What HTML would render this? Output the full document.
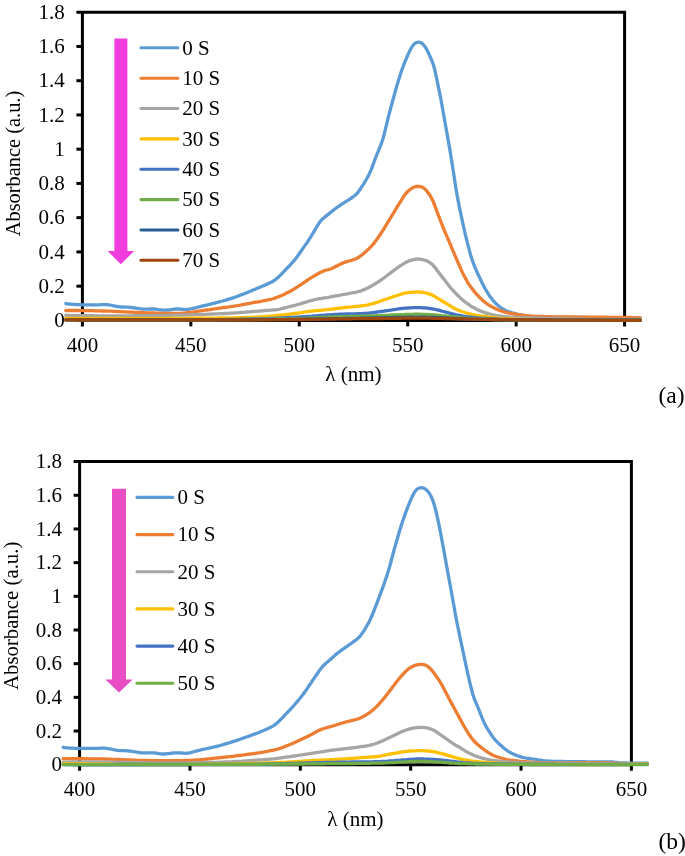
<!DOCTYPE html>
<html><head><meta charset="utf-8"><title>Absorbance spectra</title>
<style>
html,body{margin:0;padding:0;background:#fff;}
body{width:685px;height:856px;overflow:hidden;font-family:"Liberation Serif",serif;}
svg{display:block;}
text{font-family:"Liberation Serif",serif;font-size:21px;fill:#000;}
svg{will-change:transform;opacity:0.999;}
.curves path{fill:none;stroke-width:3.3;stroke-linecap:round;stroke-linejoin:round;}
</style></head><body>
<svg width="685" height="856" viewBox="0 0 685 856">
<rect width="685" height="856" fill="#fff"/>
<!-- panel a -->
<g stroke="#000" stroke-width="3" fill="none" stroke-linecap="butt">
<path d="M76.4,12.2 H626.1 M624.6,12.2 V326.4 M82.4,10.7 V326.4 M76.4,320.4 H624.6"/>
<path d="M76.4,286.16 H82.4"/>
<path d="M76.4,251.91 H82.4"/>
<path d="M76.4,217.67 H82.4"/>
<path d="M76.4,183.42 H82.4"/>
<path d="M76.4,149.18 H82.4"/>
<path d="M76.4,114.93 H82.4"/>
<path d="M76.4,80.69 H82.4"/>
<path d="M76.4,46.44 H82.4"/>
<path d="M190.84,320.4 V326.4"/>
<path d="M299.28,320.4 V326.4"/>
<path d="M407.72,320.4 V326.4"/>
<path d="M516.16,320.4 V326.4"/>
</g>
<text x="64.8" y="327.0" text-anchor="end">0</text>
<text x="64.8" y="292.8" text-anchor="end">0.2</text>
<text x="64.8" y="258.5" text-anchor="end">0.4</text>
<text x="64.8" y="224.3" text-anchor="end">0.6</text>
<text x="64.8" y="190.0" text-anchor="end">0.8</text>
<text x="64.8" y="155.8" text-anchor="end">1</text>
<text x="64.8" y="121.5" text-anchor="end">1.2</text>
<text x="64.8" y="87.3" text-anchor="end">1.4</text>
<text x="64.8" y="53.0" text-anchor="end">1.6</text>
<text x="64.8" y="18.8" text-anchor="end">1.8</text>
<text x="82.4" y="352.0" text-anchor="middle">400</text>
<text x="190.8" y="352.0" text-anchor="middle">450</text>
<text x="299.3" y="352.0" text-anchor="middle">500</text>
<text x="407.7" y="352.0" text-anchor="middle">550</text>
<text x="516.2" y="352.0" text-anchor="middle">600</text>
<text x="624.6" y="352.0" text-anchor="middle">650</text>
<text transform="translate(20.3,163.5) rotate(-90)" text-anchor="middle" style="font-size:20.4px">Absorbance (a.u.)</text>
<text x="353.5" y="381" text-anchor="middle">λ (nm)</text>
<text x="684.6" y="402.9" text-anchor="end" style="font-size:23.5px">(a)</text>
<path d="M114.4,38.6 H127.4 V251 H134.1 L120.8,264.2 L107.7,251 H114.4 Z" fill="#F23CDE"/>
<path d="M141,47.8 H177.9" stroke="#5B9BD5" stroke-width="3.1" stroke-linecap="round" fill="none"/>
<text x="182.2" y="54.6">0 S</text>
<path d="M141,78.2 H177.9" stroke="#ED7D31" stroke-width="3.1" stroke-linecap="round" fill="none"/>
<text x="182.2" y="85.0">10 S</text>
<path d="M141,108.5 H177.9" stroke="#A5A5A5" stroke-width="3.1" stroke-linecap="round" fill="none"/>
<text x="182.2" y="115.3">20 S</text>
<path d="M141,138.9 H177.9" stroke="#FFC000" stroke-width="3.1" stroke-linecap="round" fill="none"/>
<text x="182.2" y="145.7">30 S</text>
<path d="M141,169.2 H177.9" stroke="#4472C4" stroke-width="3.1" stroke-linecap="round" fill="none"/>
<text x="182.2" y="176.0">40 S</text>
<path d="M141,199.6 H177.9" stroke="#70AD47" stroke-width="3.1" stroke-linecap="round" fill="none"/>
<text x="182.2" y="206.4">50 S</text>
<path d="M141,230.0 H177.9" stroke="#255E91" stroke-width="3.1" stroke-linecap="round" fill="none"/>
<text x="182.2" y="236.8">60 S</text>
<path d="M141,260.3 H177.9" stroke="#9E480E" stroke-width="3.1" stroke-linecap="round" fill="none"/>
<text x="182.2" y="267.1">70 S</text>
<g class="curves">
<path d="M65.8,303.6 L67.4,303.8 L69.0,304.0 L70.6,304.2 L72.2,304.3 L73.8,304.4 L75.4,304.5 L77.0,304.6 L78.6,304.7 L80.2,304.7 L81.8,304.8 L83.4,304.8 L85.0,304.8 L86.6,304.8 L88.2,304.8 L89.8,304.8 L91.4,304.8 L93.0,304.8 L94.6,304.8 L96.2,304.8 L97.8,304.8 L99.4,304.8 L101.0,304.7 L102.6,304.7 L104.2,304.7 L105.8,304.7 L107.4,304.7 L109.0,304.9 L110.6,305.2 L112.2,305.4 L113.8,305.8 L115.4,306.1 L117.0,306.5 L118.6,306.7 L120.2,306.9 L121.8,307.0 L123.4,307.0 L125.0,307.1 L126.6,307.1 L128.2,307.2 L129.8,307.3 L131.4,307.5 L133.0,307.7 L134.6,308.0 L136.2,308.2 L137.8,308.5 L139.4,308.7 L141.0,308.9 L142.6,309.1 L144.2,309.1 L145.8,309.1 L147.4,309.1 L149.0,309.0 L150.6,309.0 L152.2,309.0 L153.8,309.0 L155.4,309.1 L157.0,309.3 L158.6,309.6 L160.2,309.8 L161.8,310.0 L163.4,310.1 L165.0,310.2 L166.6,310.2 L168.2,310.0 L169.8,309.8 L171.4,309.6 L173.0,309.4 L174.6,309.2 L176.2,309.0 L177.8,309.0 L179.4,309.0 L181.0,309.1 L182.6,309.3 L184.2,309.4 L185.8,309.4 L187.4,309.3 L189.0,309.1 L190.6,308.8 L192.2,308.5 L193.8,308.1 L195.4,307.8 L197.0,307.4 L198.6,307.0 L200.2,306.6 L201.8,306.2 L203.4,305.8 L205.0,305.4 L206.6,305.1 L208.2,304.7 L209.8,304.3 L211.4,303.9 L213.0,303.5 L214.6,303.1 L216.2,302.7 L217.8,302.3 L219.4,301.8 L221.0,301.4 L222.6,301.0 L224.2,300.5 L225.8,300.1 L227.4,299.6 L229.0,299.1 L230.6,298.6 L232.2,298.1 L233.8,297.6 L235.4,297.0 L237.0,296.5 L238.6,295.9 L240.2,295.3 L241.8,294.6 L243.4,294.0 L245.0,293.4 L246.6,292.7 L248.2,292.1 L249.8,291.4 L251.4,290.8 L253.0,290.1 L254.6,289.4 L256.2,288.8 L257.8,288.1 L259.4,287.4 L261.0,286.8 L262.6,286.1 L264.2,285.4 L265.8,284.7 L267.4,284.0 L269.0,283.3 L270.6,282.6 L272.2,281.7 L273.8,280.8 L275.4,279.6 L277.0,278.3 L278.6,276.9 L280.2,275.3 L281.8,273.7 L283.4,272.1 L285.0,270.4 L286.6,268.7 L288.2,267.0 L289.8,265.4 L291.4,263.7 L293.0,261.9 L294.6,260.0 L296.2,258.0 L297.8,255.8 L299.4,253.5 L301.0,251.2 L302.6,248.9 L304.2,246.6 L305.8,244.4 L307.4,242.1 L309.0,239.7 L310.6,237.2 L312.2,234.5 L313.8,231.8 L315.4,229.2 L317.0,226.5 L318.6,223.9 L320.2,221.5 L321.8,219.7 L323.4,218.3 L325.0,216.9 L326.6,215.6 L328.2,214.4 L329.8,213.1 L331.4,211.8 L333.0,210.5 L334.6,209.2 L336.2,208.0 L337.8,206.9 L339.4,205.8 L341.0,204.7 L342.6,203.7 L344.2,202.6 L345.8,201.6 L347.4,200.6 L349.0,199.6 L350.6,198.5 L352.2,197.5 L353.8,196.3 L355.4,195.0 L357.0,193.5 L358.6,191.5 L360.2,189.2 L361.8,186.7 L363.4,184.3 L365.0,181.7 L366.6,179.0 L368.2,176.1 L369.8,172.8 L371.4,169.1 L373.0,164.8 L374.6,160.4 L376.2,156.2 L377.8,152.3 L379.4,148.4 L381.0,144.5 L382.6,140.0 L384.2,134.0 L385.8,127.6 L387.4,121.0 L389.0,114.6 L390.6,108.5 L392.2,102.5 L393.8,96.7 L395.4,90.9 L397.0,85.3 L398.6,80.0 L400.2,74.9 L401.8,70.1 L403.4,65.8 L405.0,61.7 L406.6,57.8 L408.2,54.2 L409.8,50.8 L411.4,47.8 L413.0,45.4 L414.6,43.7 L416.2,42.7 L417.8,42.2 L419.4,42.2 L421.0,42.7 L422.6,43.8 L424.2,45.6 L425.8,47.9 L427.4,50.8 L429.0,54.2 L430.6,57.7 L432.2,61.4 L433.8,66.0 L435.4,72.5 L437.0,80.1 L438.6,87.8 L440.2,95.6 L441.8,104.3 L443.4,113.3 L445.0,122.3 L446.6,131.3 L448.2,140.3 L449.8,149.4 L451.4,159.1 L453.0,169.2 L454.6,179.7 L456.2,189.9 L457.8,198.9 L459.4,207.1 L461.0,214.9 L462.6,222.3 L464.2,229.5 L465.8,236.4 L467.4,242.9 L469.0,249.1 L470.6,254.9 L472.2,260.0 L473.8,264.3 L475.4,268.3 L477.0,272.0 L478.6,275.5 L480.2,278.9 L481.8,282.2 L483.4,285.4 L485.0,288.4 L486.6,291.2 L488.2,293.8 L489.8,296.2 L491.4,298.3 L493.0,300.3 L494.6,302.1 L496.2,303.8 L497.8,305.3 L499.4,306.6 L501.0,307.8 L502.6,308.9 L504.2,309.8 L505.8,310.7 L507.4,311.3 L509.0,311.9 L510.6,312.4 L512.2,312.9 L513.8,313.3 L515.4,313.7 L517.0,314.1 L518.6,314.5 L520.2,314.8 L521.8,315.1 L523.4,315.4 L525.0,315.7 L526.6,315.9 L528.2,316.2 L529.8,316.4 L531.4,316.6 L533.0,316.8 L534.6,316.9 L536.2,317.0 L537.8,317.0 L539.4,317.0 L541.0,317.1 L542.6,317.1 L544.2,317.1 L545.8,317.2 L547.4,317.2 L549.0,317.2 L550.6,317.2 L552.2,317.2 L553.8,317.3 L555.4,317.3 L557.0,317.3 L558.6,317.3 L560.2,317.3 L561.8,317.4 L563.4,317.4 L565.0,317.4 L566.6,317.4 L568.2,317.4 L569.8,317.4 L571.4,317.4 L573.0,317.5 L574.6,317.5 L576.2,317.5 L577.8,317.5 L579.4,317.5 L581.0,317.5 L582.6,317.5 L584.2,317.5 L585.8,317.5 L587.4,317.5 L589.0,317.6 L590.6,317.6 L592.2,317.6 L593.8,317.6 L595.4,317.6 L597.0,317.6 L598.6,317.6 L600.2,317.6 L601.8,317.6 L603.4,317.6 L605.0,317.6 L606.6,317.7 L608.2,317.7 L609.8,317.7 L611.4,317.7 L613.0,317.7 L614.6,317.7 L616.2,317.7 L617.8,317.7 L619.4,317.7 L621.0,317.7 L622.6,317.7 L624.2,317.7 L625.8,317.8 L627.4,317.8 L629.0,317.8 L630.6,317.8 L632.2,317.8 L633.8,317.8 L635.4,317.8 L637.0,317.8 L638.6,317.8 L640.2,317.8" stroke="#5B9BD5"/>
<path d="M65.8,310.5 L67.4,310.5 L69.0,310.5 L70.6,310.5 L72.2,310.5 L73.8,310.5 L75.4,310.5 L77.0,310.5 L78.6,310.5 L80.2,310.6 L81.8,310.6 L83.4,310.6 L85.0,310.6 L86.6,310.6 L88.2,310.6 L89.8,310.7 L91.4,310.7 L93.0,310.7 L94.6,310.8 L96.2,310.8 L97.8,310.8 L99.4,310.9 L101.0,310.9 L102.6,311.0 L104.2,311.0 L105.8,311.1 L107.4,311.1 L109.0,311.2 L110.6,311.2 L112.2,311.3 L113.8,311.4 L115.4,311.4 L117.0,311.5 L118.6,311.6 L120.2,311.7 L121.8,311.7 L123.4,311.8 L125.0,311.9 L126.6,311.9 L128.2,312.0 L129.8,312.1 L131.4,312.2 L133.0,312.2 L134.6,312.3 L136.2,312.4 L137.8,312.4 L139.4,312.5 L141.0,312.6 L142.6,312.6 L144.2,312.7 L145.8,312.8 L147.4,312.8 L149.0,312.9 L150.6,312.9 L152.2,313.0 L153.8,313.0 L155.4,313.1 L157.0,313.1 L158.6,313.2 L160.2,313.3 L161.8,313.3 L163.4,313.3 L165.0,313.4 L166.6,313.4 L168.2,313.5 L169.8,313.5 L171.4,313.5 L173.0,313.5 L174.6,313.5 L176.2,313.5 L177.8,313.5 L179.4,313.4 L181.0,313.3 L182.6,313.2 L184.2,313.1 L185.8,312.9 L187.4,312.7 L189.0,312.5 L190.6,312.3 L192.2,312.1 L193.8,311.8 L195.4,311.6 L197.0,311.4 L198.6,311.2 L200.2,310.9 L201.8,310.7 L203.4,310.5 L205.0,310.2 L206.6,310.0 L208.2,309.8 L209.8,309.6 L211.4,309.3 L213.0,309.1 L214.6,308.9 L216.2,308.7 L217.8,308.4 L219.4,308.2 L221.0,308.0 L222.6,307.7 L224.2,307.5 L225.8,307.3 L227.4,307.1 L229.0,306.8 L230.6,306.6 L232.2,306.3 L233.8,306.1 L235.4,305.8 L237.0,305.6 L238.6,305.3 L240.2,305.1 L241.8,304.8 L243.4,304.5 L245.0,304.2 L246.6,303.9 L248.2,303.6 L249.8,303.3 L251.4,303.0 L253.0,302.7 L254.6,302.4 L256.2,302.1 L257.8,301.9 L259.4,301.6 L261.0,301.3 L262.6,301.0 L264.2,300.7 L265.8,300.4 L267.4,300.0 L269.0,299.7 L270.6,299.4 L272.2,299.0 L273.8,298.5 L275.4,297.9 L277.0,297.3 L278.6,296.7 L280.2,296.1 L281.8,295.4 L283.4,294.7 L285.0,293.9 L286.6,293.1 L288.2,292.3 L289.8,291.5 L291.4,290.6 L293.0,289.7 L294.6,288.7 L296.2,287.7 L297.8,286.7 L299.4,285.6 L301.0,284.6 L302.6,283.5 L304.2,282.4 L305.8,281.3 L307.4,280.2 L309.0,279.1 L310.6,278.1 L312.2,277.1 L313.8,276.2 L315.4,275.2 L317.0,274.3 L318.6,273.4 L320.2,272.6 L321.8,271.8 L323.4,271.1 L325.0,270.5 L326.6,270.0 L328.2,269.7 L329.8,269.3 L331.4,268.6 L333.0,267.9 L334.6,267.1 L336.2,266.3 L337.8,265.5 L339.4,264.6 L341.0,263.9 L342.6,263.1 L344.2,262.5 L345.8,261.9 L347.4,261.4 L349.0,261.0 L350.6,260.5 L352.2,260.1 L353.8,259.6 L355.4,258.9 L357.0,258.2 L358.6,257.3 L360.2,256.2 L361.8,255.0 L363.4,253.7 L365.0,252.3 L366.6,250.9 L368.2,249.4 L369.8,247.8 L371.4,246.2 L373.0,244.4 L374.6,242.4 L376.2,240.2 L377.8,238.0 L379.4,235.6 L381.0,233.3 L382.6,230.8 L384.2,228.3 L385.8,225.7 L387.4,223.0 L389.0,220.4 L390.6,217.8 L392.2,215.1 L393.8,212.5 L395.4,209.9 L397.0,207.2 L398.6,204.6 L400.2,202.1 L401.8,199.5 L403.4,196.9 L405.0,194.6 L406.6,192.6 L408.2,191.0 L409.8,189.7 L411.4,188.6 L413.0,187.6 L414.6,186.9 L416.2,186.5 L417.8,186.4 L419.4,186.5 L421.0,186.8 L422.6,187.4 L424.2,188.4 L425.8,189.9 L427.4,191.8 L429.0,194.0 L430.6,196.4 L432.2,199.2 L433.8,203.1 L435.4,207.4 L437.0,211.7 L438.6,215.9 L440.2,220.0 L441.8,224.1 L443.4,228.1 L445.0,232.0 L446.6,235.7 L448.2,239.3 L449.8,243.2 L451.4,247.1 L453.0,250.9 L454.6,254.6 L456.2,258.3 L457.8,262.0 L459.4,265.7 L461.0,269.4 L462.6,272.9 L464.2,276.0 L465.8,278.9 L467.4,281.8 L469.0,284.4 L470.6,286.7 L472.2,288.9 L473.8,290.9 L475.4,292.8 L477.0,294.6 L478.6,296.3 L480.2,298.0 L481.8,299.5 L483.4,301.0 L485.0,302.3 L486.6,303.5 L488.2,304.6 L489.8,305.6 L491.4,306.5 L493.0,307.4 L494.6,308.2 L496.2,309.0 L497.8,309.7 L499.4,310.4 L501.0,310.9 L502.6,311.4 L504.2,311.9 L505.8,312.3 L507.4,312.7 L509.0,313.1 L510.6,313.4 L512.2,313.7 L513.8,314.0 L515.4,314.2 L517.0,314.5 L518.6,314.7 L520.2,314.9 L521.8,315.1 L523.4,315.3 L525.0,315.5 L526.6,315.7 L528.2,315.8 L529.8,316.0 L531.4,316.1 L533.0,316.2 L534.6,316.3 L536.2,316.3 L537.8,316.4 L539.4,316.4 L541.0,316.5 L542.6,316.5 L544.2,316.6 L545.8,316.6 L547.4,316.7 L549.0,316.7 L550.6,316.7 L552.2,316.8 L553.8,316.8 L555.4,316.8 L557.0,316.8 L558.6,316.9 L560.2,316.9 L561.8,316.9 L563.4,316.9 L565.0,317.0 L566.6,317.0 L568.2,317.0 L569.8,317.0 L571.4,317.0 L573.0,317.0 L574.6,317.0 L576.2,317.0 L577.8,317.1 L579.4,317.1 L581.0,317.1 L582.6,317.1 L584.2,317.1 L585.8,317.1 L587.4,317.1 L589.0,317.1 L590.6,317.1 L592.2,317.1 L593.8,317.2 L595.4,317.2 L597.0,317.2 L598.6,317.2 L600.2,317.2 L601.8,317.2 L603.4,317.2 L605.0,317.2 L606.6,317.2 L608.2,317.3 L609.8,317.3 L611.4,317.3 L613.0,317.3 L614.6,317.3 L616.2,317.3 L617.8,317.3 L619.4,317.4 L621.0,317.4 L622.6,317.4 L624.2,317.4 L625.8,317.4 L627.4,317.4 L629.0,317.5 L630.6,317.5 L632.2,317.6 L633.8,317.6 L635.4,317.7 L637.0,317.7 L638.6,317.8 L640.2,317.9" stroke="#ED7D31"/>
<path d="M65.8,315.5 L67.4,315.5 L69.0,315.5 L70.6,315.6 L72.2,315.6 L73.8,315.6 L75.4,315.6 L77.0,315.6 L78.6,315.6 L80.2,315.6 L81.8,315.7 L83.4,315.7 L85.0,315.7 L86.6,315.7 L88.2,315.7 L89.8,315.7 L91.4,315.7 L93.0,315.7 L94.6,315.8 L96.2,315.8 L97.8,315.8 L99.4,315.8 L101.0,315.8 L102.6,315.8 L104.2,315.8 L105.8,315.8 L107.4,315.8 L109.0,315.8 L110.6,315.8 L112.2,315.8 L113.8,315.8 L115.4,315.8 L117.0,315.8 L118.6,315.8 L120.2,315.8 L121.8,315.8 L123.4,315.8 L125.0,315.8 L126.6,315.8 L128.2,315.8 L129.8,315.8 L131.4,315.8 L133.0,315.7 L134.6,315.7 L136.2,315.7 L137.8,315.7 L139.4,315.7 L141.0,315.7 L142.6,315.7 L144.2,315.7 L145.8,315.7 L147.4,315.6 L149.0,315.6 L150.6,315.6 L152.2,315.6 L153.8,315.6 L155.4,315.5 L157.0,315.5 L158.6,315.5 L160.2,315.5 L161.8,315.4 L163.4,315.4 L165.0,315.4 L166.6,315.4 L168.2,315.3 L169.8,315.3 L171.4,315.3 L173.0,315.2 L174.6,315.2 L176.2,315.2 L177.8,315.1 L179.4,315.1 L181.0,315.1 L182.6,315.0 L184.2,315.0 L185.8,315.0 L187.4,314.9 L189.0,314.9 L190.6,314.8 L192.2,314.8 L193.8,314.7 L195.4,314.7 L197.0,314.6 L198.6,314.6 L200.2,314.5 L201.8,314.5 L203.4,314.4 L205.0,314.3 L206.6,314.3 L208.2,314.2 L209.8,314.1 L211.4,314.1 L213.0,314.0 L214.6,313.9 L216.2,313.9 L217.8,313.8 L219.4,313.7 L221.0,313.7 L222.6,313.6 L224.2,313.5 L225.8,313.5 L227.4,313.4 L229.0,313.3 L230.6,313.2 L232.2,313.1 L233.8,313.0 L235.4,312.9 L237.0,312.8 L238.6,312.7 L240.2,312.5 L241.8,312.4 L243.4,312.3 L245.0,312.2 L246.6,312.0 L248.2,311.9 L249.8,311.8 L251.4,311.7 L253.0,311.5 L254.6,311.4 L256.2,311.3 L257.8,311.2 L259.4,311.0 L261.0,310.9 L262.6,310.8 L264.2,310.6 L265.8,310.5 L267.4,310.4 L269.0,310.3 L270.6,310.1 L272.2,310.0 L273.8,309.9 L275.4,309.8 L277.0,309.6 L278.6,309.3 L280.2,309.0 L281.8,308.6 L283.4,308.2 L285.0,307.8 L286.6,307.4 L288.2,307.0 L289.8,306.6 L291.4,306.2 L293.0,305.8 L294.6,305.4 L296.2,305.0 L297.8,304.5 L299.4,304.1 L301.0,303.6 L302.6,303.1 L304.2,302.6 L305.8,302.1 L307.4,301.6 L309.0,301.2 L310.6,300.7 L312.2,300.3 L313.8,299.9 L315.4,299.5 L317.0,299.2 L318.6,298.9 L320.2,298.6 L321.8,298.3 L323.4,298.0 L325.0,297.8 L326.6,297.6 L328.2,297.3 L329.8,297.0 L331.4,296.7 L333.0,296.5 L334.6,296.2 L336.2,295.9 L337.8,295.6 L339.4,295.3 L341.0,295.0 L342.6,294.7 L344.2,294.4 L345.8,294.1 L347.4,293.8 L349.0,293.5 L350.6,293.2 L352.2,292.9 L353.8,292.6 L355.4,292.3 L357.0,291.9 L358.6,291.5 L360.2,291.1 L361.8,290.5 L363.4,289.9 L365.0,289.3 L366.6,288.5 L368.2,287.8 L369.8,286.9 L371.4,286.1 L373.0,285.1 L374.6,284.2 L376.2,283.2 L377.8,282.2 L379.4,281.1 L381.0,280.0 L382.6,278.9 L384.2,277.7 L385.8,276.5 L387.4,275.3 L389.0,274.1 L390.6,272.9 L392.2,271.6 L393.8,270.4 L395.4,269.3 L397.0,268.1 L398.6,267.0 L400.2,265.9 L401.8,264.9 L403.4,263.9 L405.0,262.9 L406.6,262.0 L408.2,261.2 L409.8,260.6 L411.4,260.1 L413.0,259.6 L414.6,259.3 L416.2,259.1 L417.8,259.0 L419.4,259.1 L421.0,259.3 L422.6,259.6 L424.2,260.0 L425.8,260.5 L427.4,261.2 L429.0,262.1 L430.6,263.1 L432.2,264.2 L433.8,266.1 L435.4,268.1 L437.0,270.2 L438.6,272.3 L440.2,274.4 L441.8,276.4 L443.4,278.5 L445.0,280.6 L446.6,282.7 L448.2,284.7 L449.8,286.7 L451.4,288.6 L453.0,290.4 L454.6,292.2 L456.2,293.9 L457.8,295.5 L459.4,297.0 L461.0,298.5 L462.6,299.9 L464.2,301.2 L465.8,302.5 L467.4,303.6 L469.0,304.7 L470.6,305.8 L472.2,306.8 L473.8,307.8 L475.4,308.6 L477.0,309.5 L478.6,310.2 L480.2,310.9 L481.8,311.5 L483.4,312.1 L485.0,312.6 L486.6,313.1 L488.2,313.6 L489.8,314.0 L491.4,314.4 L493.0,314.8 L494.6,315.2 L496.2,315.5 L497.8,315.8 L499.4,316.0 L501.0,316.2 L502.6,316.4 L504.2,316.6 L505.8,316.8 L507.4,316.9 L509.0,317.0 L510.6,317.1 L512.2,317.2 L513.8,317.2 L515.4,317.3 L517.0,317.4 L518.6,317.4 L520.2,317.5 L521.8,317.5 L523.4,317.6 L525.0,317.6 L526.6,317.7 L528.2,317.7 L529.8,317.8 L531.4,317.8 L533.0,317.9 L534.6,317.9 L536.2,318.0 L537.8,318.0 L539.4,318.1 L541.0,318.1 L542.6,318.2 L544.2,318.2 L545.8,318.3 L547.4,318.3 L549.0,318.4 L550.6,318.4 L552.2,318.5 L553.8,318.5 L555.4,318.6 L557.0,318.6 L558.6,318.7 L560.2,318.7 L561.8,318.7 L563.4,318.8 L565.0,318.8 L566.6,318.9 L568.2,318.9 L569.8,318.9 L571.4,319.0 L573.0,319.0 L574.6,319.0 L576.2,319.1 L577.8,319.1 L579.4,319.1 L581.0,319.2 L582.6,319.2 L584.2,319.2 L585.8,319.2 L587.4,319.3 L589.0,319.3 L590.6,319.3 L592.2,319.3 L593.8,319.3 L595.4,319.4 L597.0,319.4 L598.6,319.4 L600.2,319.4 L601.8,319.4 L603.4,319.4 L605.0,319.4 L606.6,319.5 L608.2,319.5 L609.8,319.5 L611.4,319.5 L613.0,319.5 L614.6,319.5 L616.2,319.5 L617.8,319.5 L619.4,319.5 L621.0,319.5 L622.6,319.5 L624.2,319.5 L625.8,319.5 L627.4,319.5 L629.0,319.5 L630.6,319.5 L632.2,319.5 L633.8,319.4 L635.4,319.4 L637.0,319.4 L638.6,319.4 L640.2,319.4" stroke="#A5A5A5"/>
<path d="M65.8,318.3 L67.4,318.3 L69.0,318.3 L70.6,318.3 L72.2,318.3 L73.8,318.3 L75.4,318.4 L77.0,318.4 L78.6,318.4 L80.2,318.4 L81.8,318.4 L83.4,318.4 L85.0,318.4 L86.6,318.4 L88.2,318.4 L89.8,318.4 L91.4,318.4 L93.0,318.4 L94.6,318.4 L96.2,318.4 L97.8,318.4 L99.4,318.4 L101.0,318.4 L102.6,318.4 L104.2,318.4 L105.8,318.4 L107.4,318.5 L109.0,318.5 L110.6,318.5 L112.2,318.5 L113.8,318.5 L115.4,318.5 L117.0,318.5 L118.6,318.5 L120.2,318.5 L121.8,318.5 L123.4,318.4 L125.0,318.4 L126.6,318.4 L128.2,318.4 L129.8,318.4 L131.4,318.4 L133.0,318.4 L134.6,318.4 L136.2,318.4 L137.8,318.4 L139.4,318.4 L141.0,318.4 L142.6,318.4 L144.2,318.4 L145.8,318.4 L147.4,318.4 L149.0,318.4 L150.6,318.4 L152.2,318.4 L153.8,318.4 L155.4,318.4 L157.0,318.4 L158.6,318.4 L160.2,318.4 L161.8,318.4 L163.4,318.3 L165.0,318.3 L166.6,318.3 L168.2,318.3 L169.8,318.3 L171.4,318.3 L173.0,318.3 L174.6,318.3 L176.2,318.3 L177.8,318.3 L179.4,318.3 L181.0,318.3 L182.6,318.3 L184.2,318.3 L185.8,318.3 L187.4,318.3 L189.0,318.2 L190.6,318.2 L192.2,318.2 L193.8,318.2 L195.4,318.2 L197.0,318.2 L198.6,318.2 L200.2,318.2 L201.8,318.2 L203.4,318.2 L205.0,318.2 L206.6,318.2 L208.2,318.2 L209.8,318.1 L211.4,318.1 L213.0,318.1 L214.6,318.1 L216.2,318.1 L217.8,318.1 L219.4,318.0 L221.0,318.0 L222.6,318.0 L224.2,318.0 L225.8,317.9 L227.4,317.9 L229.0,317.9 L230.6,317.9 L232.2,317.8 L233.8,317.8 L235.4,317.8 L237.0,317.7 L238.6,317.7 L240.2,317.7 L241.8,317.6 L243.4,317.6 L245.0,317.5 L246.6,317.5 L248.2,317.5 L249.8,317.4 L251.4,317.4 L253.0,317.3 L254.6,317.2 L256.2,317.1 L257.8,317.1 L259.4,317.0 L261.0,316.9 L262.6,316.7 L264.2,316.6 L265.8,316.5 L267.4,316.4 L269.0,316.2 L270.6,316.1 L272.2,316.0 L273.8,315.8 L275.4,315.7 L277.0,315.5 L278.6,315.4 L280.2,315.2 L281.8,315.0 L283.4,314.8 L285.0,314.7 L286.6,314.5 L288.2,314.3 L289.8,314.1 L291.4,313.9 L293.0,313.7 L294.6,313.5 L296.2,313.3 L297.8,313.1 L299.4,312.8 L301.0,312.6 L302.6,312.3 L304.2,312.1 L305.8,311.8 L307.4,311.6 L309.0,311.4 L310.6,311.2 L312.2,311.1 L313.8,310.9 L315.4,310.7 L317.0,310.6 L318.6,310.4 L320.2,310.3 L321.8,310.1 L323.4,310.0 L325.0,309.8 L326.6,309.7 L328.2,309.5 L329.8,309.3 L331.4,309.1 L333.0,309.0 L334.6,308.8 L336.2,308.6 L337.8,308.4 L339.4,308.2 L341.0,308.0 L342.6,307.8 L344.2,307.7 L345.8,307.5 L347.4,307.3 L349.0,307.1 L350.6,306.9 L352.2,306.8 L353.8,306.6 L355.4,306.5 L357.0,306.3 L358.6,306.1 L360.2,306.0 L361.8,305.8 L363.4,305.6 L365.0,305.4 L366.6,305.1 L368.2,304.8 L369.8,304.4 L371.4,304.0 L373.0,303.6 L374.6,303.1 L376.2,302.6 L377.8,302.0 L379.4,301.5 L381.0,300.9 L382.6,300.4 L384.2,299.8 L385.8,299.3 L387.4,298.7 L389.0,298.2 L390.6,297.6 L392.2,297.1 L393.8,296.5 L395.4,296.0 L397.0,295.5 L398.6,295.0 L400.2,294.5 L401.8,294.0 L403.4,293.5 L405.0,293.2 L406.6,292.9 L408.2,292.7 L409.8,292.5 L411.4,292.3 L413.0,292.2 L414.6,292.1 L416.2,292.0 L417.8,292.0 L419.4,292.1 L421.0,292.2 L422.6,292.4 L424.2,292.7 L425.8,293.0 L427.4,293.4 L429.0,293.9 L430.6,294.4 L432.2,295.0 L433.8,295.9 L435.4,296.9 L437.0,297.9 L438.6,298.9 L440.2,299.8 L441.8,300.8 L443.4,301.8 L445.0,302.7 L446.6,303.7 L448.2,304.6 L449.8,305.6 L451.4,306.6 L453.0,307.5 L454.6,308.5 L456.2,309.3 L457.8,310.0 L459.4,310.6 L461.0,311.2 L462.6,311.8 L464.2,312.3 L465.8,312.8 L467.4,313.2 L469.0,313.6 L470.6,314.0 L472.2,314.4 L473.8,314.7 L475.4,315.1 L477.0,315.4 L478.6,315.6 L480.2,315.8 L481.8,316.1 L483.4,316.3 L485.0,316.5 L486.6,316.7 L488.2,316.9 L489.8,317.0 L491.4,317.2 L493.0,317.4 L494.6,317.6 L496.2,317.8 L497.8,318.0 L499.4,318.1 L501.0,318.3 L502.6,318.4 L504.2,318.5 L505.8,318.7 L507.4,318.8 L509.0,318.9 L510.6,318.9 L512.2,319.0 L513.8,319.1 L515.4,319.1 L517.0,319.2 L518.6,319.2 L520.2,319.3 L521.8,319.3 L523.4,319.4 L525.0,319.4 L526.6,319.4 L528.2,319.5 L529.8,319.5 L531.4,319.5 L533.0,319.6 L534.6,319.6 L536.2,319.6 L537.8,319.6 L539.4,319.7 L541.0,319.7 L542.6,319.7 L544.2,319.7 L545.8,319.8 L547.4,319.8 L549.0,319.8 L550.6,319.8 L552.2,319.8 L553.8,319.9 L555.4,319.9 L557.0,319.9 L558.6,319.9 L560.2,319.9 L561.8,319.9 L563.4,319.9 L565.0,319.9 L566.6,319.9 L568.2,319.9 L569.8,319.9 L571.4,319.9 L573.0,319.9 L574.6,320.0 L576.2,320.0 L577.8,320.0 L579.4,320.0 L581.0,320.0 L582.6,320.0 L584.2,320.0 L585.8,320.0 L587.4,320.0 L589.0,320.0 L590.6,320.0 L592.2,320.0 L593.8,320.0 L595.4,320.0 L597.0,320.0 L598.6,320.0 L600.2,320.0 L601.8,320.0 L603.4,320.0 L605.0,320.0 L606.6,320.0 L608.2,320.0 L609.8,320.0 L611.4,320.0 L613.0,320.0 L614.6,320.0 L616.2,320.0 L617.8,320.0 L619.4,320.0 L621.0,320.0 L622.6,320.0 L624.2,320.0 L625.8,320.0 L627.4,320.0 L629.0,320.0 L630.6,320.0 L632.2,320.0 L633.8,319.9 L635.4,319.9 L637.0,319.9 L638.6,319.9 L640.2,319.9" stroke="#FFC000"/>
<path d="M65.8,319.9 L67.4,319.9 L69.0,319.9 L70.6,319.9 L72.2,319.9 L73.8,319.9 L75.4,319.9 L77.0,319.9 L78.6,319.9 L80.2,319.9 L81.8,319.9 L83.4,319.9 L85.0,319.9 L86.6,319.9 L88.2,319.9 L89.8,319.9 L91.4,319.9 L93.0,319.9 L94.6,319.9 L96.2,319.9 L97.8,319.9 L99.4,319.9 L101.0,319.9 L102.6,319.9 L104.2,319.9 L105.8,319.9 L107.4,319.9 L109.0,319.9 L110.6,319.9 L112.2,319.9 L113.8,319.9 L115.4,319.9 L117.0,319.9 L118.6,319.9 L120.2,319.9 L121.8,319.9 L123.4,319.9 L125.0,319.9 L126.6,319.9 L128.2,319.9 L129.8,319.9 L131.4,319.9 L133.0,319.9 L134.6,319.9 L136.2,319.9 L137.8,319.9 L139.4,319.9 L141.0,319.9 L142.6,319.9 L144.2,319.9 L145.8,319.9 L147.4,319.9 L149.0,319.9 L150.6,319.9 L152.2,319.9 L153.8,319.9 L155.4,319.9 L157.0,319.9 L158.6,319.9 L160.2,319.9 L161.8,319.9 L163.4,319.8 L165.0,319.8 L166.6,319.8 L168.2,319.8 L169.8,319.8 L171.4,319.8 L173.0,319.8 L174.6,319.8 L176.2,319.8 L177.8,319.8 L179.4,319.8 L181.0,319.8 L182.6,319.8 L184.2,319.8 L185.8,319.8 L187.4,319.8 L189.0,319.8 L190.6,319.8 L192.2,319.8 L193.8,319.8 L195.4,319.8 L197.0,319.8 L198.6,319.8 L200.2,319.8 L201.8,319.8 L203.4,319.8 L205.0,319.8 L206.6,319.8 L208.2,319.8 L209.8,319.8 L211.4,319.7 L213.0,319.7 L214.6,319.7 L216.2,319.7 L217.8,319.7 L219.4,319.6 L221.0,319.6 L222.6,319.6 L224.2,319.6 L225.8,319.5 L227.4,319.5 L229.0,319.5 L230.6,319.5 L232.2,319.4 L233.8,319.4 L235.4,319.4 L237.0,319.3 L238.6,319.3 L240.2,319.3 L241.8,319.2 L243.4,319.2 L245.0,319.2 L246.6,319.1 L248.2,319.1 L249.8,319.1 L251.4,319.0 L253.0,319.0 L254.6,318.9 L256.2,318.9 L257.8,318.9 L259.4,318.8 L261.0,318.8 L262.6,318.7 L264.2,318.7 L265.8,318.6 L267.4,318.6 L269.0,318.5 L270.6,318.5 L272.2,318.4 L273.8,318.3 L275.4,318.3 L277.0,318.2 L278.6,318.1 L280.2,318.0 L281.8,318.0 L283.4,317.9 L285.0,317.8 L286.6,317.7 L288.2,317.6 L289.8,317.6 L291.4,317.5 L293.0,317.4 L294.6,317.3 L296.2,317.2 L297.8,317.1 L299.4,317.0 L301.0,316.9 L302.6,316.8 L304.2,316.7 L305.8,316.6 L307.4,316.5 L309.0,316.4 L310.6,316.3 L312.2,316.2 L313.8,316.0 L315.4,315.9 L317.0,315.8 L318.6,315.6 L320.2,315.5 L321.8,315.4 L323.4,315.3 L325.0,315.1 L326.6,315.0 L328.2,314.9 L329.8,314.8 L331.4,314.7 L333.0,314.6 L334.6,314.5 L336.2,314.4 L337.8,314.3 L339.4,314.2 L341.0,314.2 L342.6,314.1 L344.2,314.1 L345.8,314.0 L347.4,314.0 L349.0,313.9 L350.6,313.9 L352.2,313.9 L353.8,313.8 L355.4,313.8 L357.0,313.7 L358.6,313.7 L360.2,313.6 L361.8,313.6 L363.4,313.5 L365.0,313.4 L366.6,313.3 L368.2,313.1 L369.8,313.0 L371.4,312.8 L373.0,312.6 L374.6,312.4 L376.2,312.2 L377.8,312.0 L379.4,311.7 L381.0,311.5 L382.6,311.3 L384.2,311.0 L385.8,310.8 L387.4,310.6 L389.0,310.4 L390.6,310.1 L392.2,309.9 L393.8,309.6 L395.4,309.4 L397.0,309.1 L398.6,308.9 L400.2,308.7 L401.8,308.5 L403.4,308.4 L405.0,308.2 L406.6,308.1 L408.2,308.0 L409.8,307.9 L411.4,307.8 L413.0,307.7 L414.6,307.6 L416.2,307.6 L417.8,307.6 L419.4,307.6 L421.0,307.7 L422.6,307.8 L424.2,307.9 L425.8,308.0 L427.4,308.1 L429.0,308.3 L430.6,308.6 L432.2,308.9 L433.8,309.2 L435.4,309.5 L437.0,309.8 L438.6,310.2 L440.2,310.6 L441.8,311.1 L443.4,311.5 L445.0,311.9 L446.6,312.3 L448.2,312.7 L449.8,313.2 L451.4,313.6 L453.0,314.0 L454.6,314.4 L456.2,314.8 L457.8,315.1 L459.4,315.4 L461.0,315.7 L462.6,316.0 L464.2,316.3 L465.8,316.5 L467.4,316.8 L469.0,317.0 L470.6,317.2 L472.2,317.4 L473.8,317.5 L475.4,317.7 L477.0,317.8 L478.6,318.0 L480.2,318.1 L481.8,318.3 L483.4,318.4 L485.0,318.5 L486.6,318.6 L488.2,318.7 L489.8,318.8 L491.4,318.9 L493.0,318.9 L494.6,319.0 L496.2,319.1 L497.8,319.2 L499.4,319.2 L501.0,319.3 L502.6,319.4 L504.2,319.4 L505.8,319.5 L507.4,319.5 L509.0,319.6 L510.6,319.6 L512.2,319.7 L513.8,319.7 L515.4,319.7 L517.0,319.8 L518.6,319.8 L520.2,319.8 L521.8,319.8 L523.4,319.8 L525.0,319.8 L526.6,319.8 L528.2,319.9 L529.8,319.9 L531.4,319.9 L533.0,319.9 L534.6,319.9 L536.2,319.9 L537.8,319.9 L539.4,319.9 L541.0,319.9 L542.6,319.9 L544.2,320.0 L545.8,320.0 L547.4,320.0 L549.0,320.0 L550.6,320.0 L552.2,320.0 L553.8,320.0 L555.4,320.0 L557.0,320.0 L558.6,320.0 L560.2,320.0 L561.8,320.0 L563.4,320.0 L565.0,320.1 L566.6,320.1 L568.2,320.1 L569.8,320.1 L571.4,320.1 L573.0,320.1 L574.6,320.1 L576.2,320.1 L577.8,320.1 L579.4,320.1 L581.0,320.1 L582.6,320.1 L584.2,320.1 L585.8,320.1 L587.4,320.1 L589.0,320.1 L590.6,320.1 L592.2,320.1 L593.8,320.1 L595.4,320.1 L597.0,320.2 L598.6,320.2 L600.2,320.2 L601.8,320.2 L603.4,320.2 L605.0,320.2 L606.6,320.2 L608.2,320.2 L609.8,320.2 L611.4,320.2 L613.0,320.2 L614.6,320.2 L616.2,320.2 L617.8,320.2 L619.4,320.2 L621.0,320.2 L622.6,320.2 L624.2,320.2 L625.8,320.2 L627.4,320.2 L629.0,320.2 L630.6,320.2 L632.2,320.2 L633.8,320.2 L635.4,320.2 L637.0,320.2 L638.6,320.2 L640.2,320.2" stroke="#4472C4"/>
<path d="M65.8,319.9 L67.4,319.9 L69.0,319.9 L70.6,319.9 L72.2,319.9 L73.8,319.9 L75.4,319.9 L77.0,319.9 L78.6,319.9 L80.2,319.9 L81.8,319.9 L83.4,319.9 L85.0,319.9 L86.6,319.9 L88.2,319.9 L89.8,319.9 L91.4,319.9 L93.0,319.9 L94.6,319.9 L96.2,319.9 L97.8,319.9 L99.4,319.9 L101.0,319.9 L102.6,319.9 L104.2,319.9 L105.8,319.9 L107.4,319.9 L109.0,319.9 L110.6,319.9 L112.2,319.9 L113.8,319.9 L115.4,319.9 L117.0,319.9 L118.6,319.9 L120.2,319.9 L121.8,319.9 L123.4,319.9 L125.0,319.9 L126.6,319.9 L128.2,319.9 L129.8,319.9 L131.4,319.9 L133.0,319.9 L134.6,319.9 L136.2,319.9 L137.8,319.9 L139.4,319.9 L141.0,319.9 L142.6,319.9 L144.2,319.9 L145.8,319.9 L147.4,319.9 L149.0,319.9 L150.6,319.9 L152.2,319.9 L153.8,319.9 L155.4,319.9 L157.0,319.9 L158.6,319.9 L160.2,319.9 L161.8,319.8 L163.4,319.8 L165.0,319.8 L166.6,319.8 L168.2,319.8 L169.8,319.8 L171.4,319.8 L173.0,319.8 L174.6,319.8 L176.2,319.8 L177.8,319.8 L179.4,319.8 L181.0,319.8 L182.6,319.8 L184.2,319.8 L185.8,319.8 L187.4,319.8 L189.0,319.8 L190.6,319.8 L192.2,319.8 L193.8,319.8 L195.4,319.8 L197.0,319.8 L198.6,319.8 L200.2,319.8 L201.8,319.8 L203.4,319.8 L205.0,319.8 L206.6,319.8 L208.2,319.8 L209.8,319.8 L211.4,319.8 L213.0,319.8 L214.6,319.8 L216.2,319.7 L217.8,319.7 L219.4,319.7 L221.0,319.7 L222.6,319.7 L224.2,319.7 L225.8,319.7 L227.4,319.7 L229.0,319.7 L230.6,319.6 L232.2,319.6 L233.8,319.6 L235.4,319.6 L237.0,319.6 L238.6,319.6 L240.2,319.5 L241.8,319.5 L243.4,319.5 L245.0,319.5 L246.6,319.5 L248.2,319.5 L249.8,319.4 L251.4,319.4 L253.0,319.4 L254.6,319.4 L256.2,319.4 L257.8,319.3 L259.4,319.3 L261.0,319.3 L262.6,319.3 L264.2,319.2 L265.8,319.2 L267.4,319.2 L269.0,319.2 L270.6,319.1 L272.2,319.1 L273.8,319.1 L275.4,319.1 L277.0,319.0 L278.6,319.0 L280.2,319.0 L281.8,319.0 L283.4,318.9 L285.0,318.9 L286.6,318.9 L288.2,318.8 L289.8,318.8 L291.4,318.7 L293.0,318.7 L294.6,318.6 L296.2,318.6 L297.8,318.5 L299.4,318.5 L301.0,318.4 L302.6,318.3 L304.2,318.3 L305.8,318.2 L307.4,318.1 L309.0,318.1 L310.6,318.0 L312.2,317.9 L313.8,317.9 L315.4,317.8 L317.0,317.7 L318.6,317.7 L320.2,317.6 L321.8,317.5 L323.4,317.4 L325.0,317.4 L326.6,317.3 L328.2,317.2 L329.8,317.2 L331.4,317.1 L333.0,317.1 L334.6,317.0 L336.2,316.9 L337.8,316.9 L339.4,316.8 L341.0,316.8 L342.6,316.7 L344.2,316.7 L345.8,316.6 L347.4,316.6 L349.0,316.5 L350.6,316.5 L352.2,316.4 L353.8,316.4 L355.4,316.3 L357.0,316.3 L358.6,316.3 L360.2,316.2 L361.8,316.2 L363.4,316.1 L365.0,316.1 L366.6,316.0 L368.2,316.0 L369.8,315.9 L371.4,315.9 L373.0,315.8 L374.6,315.8 L376.2,315.7 L377.8,315.7 L379.4,315.6 L381.0,315.6 L382.6,315.5 L384.2,315.4 L385.8,315.4 L387.4,315.3 L389.0,315.2 L390.6,315.1 L392.2,315.0 L393.8,315.0 L395.4,314.9 L397.0,314.8 L398.6,314.7 L400.2,314.7 L401.8,314.6 L403.4,314.6 L405.0,314.5 L406.6,314.4 L408.2,314.4 L409.8,314.3 L411.4,314.3 L413.0,314.3 L414.6,314.2 L416.2,314.2 L417.8,314.2 L419.4,314.2 L421.0,314.3 L422.6,314.3 L424.2,314.4 L425.8,314.4 L427.4,314.5 L429.0,314.6 L430.6,314.6 L432.2,314.7 L433.8,314.8 L435.4,315.0 L437.0,315.1 L438.6,315.3 L440.2,315.5 L441.8,315.7 L443.4,315.8 L445.0,316.0 L446.6,316.2 L448.2,316.3 L449.8,316.5 L451.4,316.7 L453.0,316.9 L454.6,317.1 L456.2,317.2 L457.8,317.4 L459.4,317.5 L461.0,317.7 L462.6,317.8 L464.2,318.0 L465.8,318.1 L467.4,318.2 L469.0,318.3 L470.6,318.5 L472.2,318.6 L473.8,318.7 L475.4,318.8 L477.0,318.9 L478.6,318.9 L480.2,319.0 L481.8,319.1 L483.4,319.1 L485.0,319.2 L486.6,319.2 L488.2,319.3 L489.8,319.4 L491.4,319.4 L493.0,319.5 L494.6,319.5 L496.2,319.6 L497.8,319.6 L499.4,319.7 L501.0,319.7 L502.6,319.7 L504.2,319.8 L505.8,319.8 L507.4,319.8 L509.0,319.9 L510.6,319.9 L512.2,319.9 L513.8,320.0 L515.4,320.0 L517.0,320.0 L518.6,320.0 L520.2,320.0 L521.8,320.0 L523.4,320.0 L525.0,320.0 L526.6,320.0 L528.2,320.0 L529.8,320.0 L531.4,320.0 L533.0,320.0 L534.6,320.0 L536.2,320.1 L537.8,320.1 L539.4,320.1 L541.0,320.1 L542.6,320.1 L544.2,320.1 L545.8,320.1 L547.4,320.1 L549.0,320.1 L550.6,320.1 L552.2,320.1 L553.8,320.1 L555.4,320.1 L557.0,320.1 L558.6,320.1 L560.2,320.1 L561.8,320.1 L563.4,320.1 L565.0,320.1 L566.6,320.1 L568.2,320.1 L569.8,320.1 L571.4,320.1 L573.0,320.1 L574.6,320.1 L576.2,320.1 L577.8,320.2 L579.4,320.2 L581.0,320.2 L582.6,320.2 L584.2,320.2 L585.8,320.2 L587.4,320.2 L589.0,320.2 L590.6,320.2 L592.2,320.2 L593.8,320.2 L595.4,320.2 L597.0,320.2 L598.6,320.2 L600.2,320.2 L601.8,320.2 L603.4,320.2 L605.0,320.2 L606.6,320.2 L608.2,320.2 L609.8,320.2 L611.4,320.2 L613.0,320.2 L614.6,320.2 L616.2,320.2 L617.8,320.2 L619.4,320.2 L621.0,320.2 L622.6,320.2 L624.2,320.2 L625.8,320.2 L627.4,320.2 L629.0,320.2 L630.6,320.2 L632.2,320.2 L633.8,320.2 L635.4,320.2 L637.0,320.2 L638.6,320.2 L640.2,320.2" stroke="#70AD47"/>
<path d="M65.8,319.9 L67.4,319.9 L69.0,319.9 L70.6,319.9 L72.2,319.9 L73.8,319.9 L75.4,319.9 L77.0,319.9 L78.6,319.9 L80.2,319.9 L81.8,319.9 L83.4,319.9 L85.0,319.9 L86.6,319.9 L88.2,319.9 L89.8,319.9 L91.4,319.9 L93.0,319.9 L94.6,319.9 L96.2,319.9 L97.8,319.9 L99.4,319.9 L101.0,319.9 L102.6,319.9 L104.2,319.9 L105.8,319.9 L107.4,319.9 L109.0,319.9 L110.6,319.9 L112.2,319.9 L113.8,319.9 L115.4,319.9 L117.0,319.9 L118.6,319.9 L120.2,319.9 L121.8,319.9 L123.4,319.9 L125.0,319.9 L126.6,319.9 L128.2,319.9 L129.8,319.9 L131.4,319.9 L133.0,319.9 L134.6,319.9 L136.2,319.9 L137.8,319.9 L139.4,319.9 L141.0,319.9 L142.6,319.9 L144.2,319.9 L145.8,319.9 L147.4,319.9 L149.0,319.9 L150.6,319.9 L152.2,319.9 L153.8,319.9 L155.4,319.9 L157.0,319.9 L158.6,319.9 L160.2,319.9 L161.8,319.9 L163.4,319.9 L165.0,319.9 L166.6,319.9 L168.2,319.9 L169.8,319.9 L171.4,319.9 L173.0,319.9 L174.6,319.9 L176.2,319.9 L177.8,319.9 L179.4,319.9 L181.0,319.9 L182.6,319.9 L184.2,319.9 L185.8,319.9 L187.4,319.9 L189.0,319.9 L190.6,319.9 L192.2,319.9 L193.8,319.9 L195.4,319.9 L197.0,319.9 L198.6,319.9 L200.2,319.8 L201.8,319.8 L203.4,319.8 L205.0,319.8 L206.6,319.8 L208.2,319.8 L209.8,319.8 L211.4,319.8 L213.0,319.8 L214.6,319.8 L216.2,319.8 L217.8,319.8 L219.4,319.8 L221.0,319.8 L222.6,319.8 L224.2,319.8 L225.8,319.8 L227.4,319.8 L229.0,319.8 L230.6,319.8 L232.2,319.8 L233.8,319.8 L235.4,319.8 L237.0,319.8 L238.6,319.8 L240.2,319.8 L241.8,319.8 L243.4,319.8 L245.0,319.8 L246.6,319.8 L248.2,319.8 L249.8,319.8 L251.4,319.8 L253.0,319.8 L254.6,319.8 L256.2,319.8 L257.8,319.8 L259.4,319.8 L261.0,319.8 L262.6,319.7 L264.2,319.7 L265.8,319.7 L267.4,319.7 L269.0,319.7 L270.6,319.7 L272.2,319.7 L273.8,319.7 L275.4,319.6 L277.0,319.6 L278.6,319.6 L280.2,319.6 L281.8,319.6 L283.4,319.5 L285.0,319.5 L286.6,319.5 L288.2,319.5 L289.8,319.4 L291.4,319.4 L293.0,319.4 L294.6,319.4 L296.2,319.4 L297.8,319.3 L299.4,319.3 L301.0,319.3 L302.6,319.2 L304.2,319.2 L305.8,319.2 L307.4,319.2 L309.0,319.1 L310.6,319.1 L312.2,319.1 L313.8,319.1 L315.4,319.0 L317.0,319.0 L318.6,319.0 L320.2,318.9 L321.8,318.9 L323.4,318.9 L325.0,318.9 L326.6,318.8 L328.2,318.8 L329.8,318.8 L331.4,318.7 L333.0,318.7 L334.6,318.7 L336.2,318.7 L337.8,318.6 L339.4,318.6 L341.0,318.6 L342.6,318.6 L344.2,318.5 L345.8,318.5 L347.4,318.5 L349.0,318.4 L350.6,318.4 L352.2,318.4 L353.8,318.4 L355.4,318.3 L357.0,318.3 L358.6,318.3 L360.2,318.2 L361.8,318.2 L363.4,318.2 L365.0,318.1 L366.6,318.1 L368.2,318.1 L369.8,318.0 L371.4,318.0 L373.0,318.0 L374.6,317.9 L376.2,317.9 L377.8,317.9 L379.4,317.8 L381.0,317.8 L382.6,317.7 L384.2,317.7 L385.8,317.7 L387.4,317.6 L389.0,317.6 L390.6,317.6 L392.2,317.6 L393.8,317.5 L395.4,317.5 L397.0,317.5 L398.6,317.4 L400.2,317.4 L401.8,317.4 L403.4,317.3 L405.0,317.3 L406.6,317.3 L408.2,317.2 L409.8,317.2 L411.4,317.2 L413.0,317.1 L414.6,317.1 L416.2,317.1 L417.8,317.1 L419.4,317.1 L421.0,317.1 L422.6,317.2 L424.2,317.2 L425.8,317.2 L427.4,317.3 L429.0,317.3 L430.6,317.4 L432.2,317.4 L433.8,317.5 L435.4,317.5 L437.0,317.6 L438.6,317.6 L440.2,317.7 L441.8,317.8 L443.4,317.9 L445.0,318.0 L446.6,318.1 L448.2,318.2 L449.8,318.3 L451.4,318.4 L453.0,318.5 L454.6,318.6 L456.2,318.6 L457.8,318.7 L459.4,318.8 L461.0,318.8 L462.6,318.9 L464.2,318.9 L465.8,319.0 L467.4,319.1 L469.0,319.1 L470.6,319.2 L472.2,319.2 L473.8,319.3 L475.4,319.3 L477.0,319.4 L478.6,319.4 L480.2,319.4 L481.8,319.5 L483.4,319.5 L485.0,319.6 L486.6,319.6 L488.2,319.6 L489.8,319.7 L491.4,319.7 L493.0,319.7 L494.6,319.7 L496.2,319.8 L497.8,319.8 L499.4,319.8 L501.0,319.8 L502.6,319.8 L504.2,319.8 L505.8,319.8 L507.4,319.8 L509.0,319.9 L510.6,319.9 L512.2,319.9 L513.8,319.9 L515.4,319.9 L517.0,319.9 L518.6,319.9 L520.2,319.9 L521.8,319.9 L523.4,319.9 L525.0,319.9 L526.6,319.9 L528.2,319.9 L529.8,320.0 L531.4,320.0 L533.0,320.0 L534.6,320.0 L536.2,320.0 L537.8,320.0 L539.4,320.0 L541.0,320.0 L542.6,320.0 L544.2,320.0 L545.8,320.0 L547.4,320.0 L549.0,320.0 L550.6,320.0 L552.2,320.0 L553.8,320.1 L555.4,320.1 L557.0,320.1 L558.6,320.1 L560.2,320.1 L561.8,320.1 L563.4,320.1 L565.0,320.1 L566.6,320.1 L568.2,320.1 L569.8,320.1 L571.4,320.1 L573.0,320.1 L574.6,320.1 L576.2,320.1 L577.8,320.1 L579.4,320.1 L581.0,320.1 L582.6,320.1 L584.2,320.1 L585.8,320.1 L587.4,320.1 L589.0,320.1 L590.6,320.2 L592.2,320.2 L593.8,320.2 L595.4,320.2 L597.0,320.2 L598.6,320.2 L600.2,320.2 L601.8,320.2 L603.4,320.2 L605.0,320.2 L606.6,320.2 L608.2,320.2 L609.8,320.2 L611.4,320.2 L613.0,320.2 L614.6,320.2 L616.2,320.2 L617.8,320.2 L619.4,320.2 L621.0,320.2 L622.6,320.2 L624.2,320.2 L625.8,320.2 L627.4,320.2 L629.0,320.2 L630.6,320.2 L632.2,320.2 L633.8,320.2 L635.4,320.2 L637.0,320.2 L638.6,320.2 L640.2,320.2" stroke="#255E91"/>
<path d="M65.8,319.9 L67.4,319.9 L69.0,319.9 L70.6,319.9 L72.2,319.9 L73.8,319.9 L75.4,319.9 L77.0,319.9 L78.6,319.9 L80.2,319.9 L81.8,319.9 L83.4,319.9 L85.0,319.9 L86.6,319.9 L88.2,319.9 L89.8,319.9 L91.4,319.9 L93.0,319.9 L94.6,319.9 L96.2,319.9 L97.8,319.9 L99.4,319.9 L101.0,319.9 L102.6,319.9 L104.2,319.9 L105.8,319.9 L107.4,319.9 L109.0,319.9 L110.6,319.9 L112.2,319.9 L113.8,319.9 L115.4,319.9 L117.0,319.9 L118.6,319.9 L120.2,319.9 L121.8,319.9 L123.4,319.9 L125.0,319.9 L126.6,319.9 L128.2,319.9 L129.8,319.9 L131.4,319.9 L133.0,319.9 L134.6,319.9 L136.2,319.9 L137.8,319.9 L139.4,319.9 L141.0,319.9 L142.6,319.9 L144.2,319.9 L145.8,319.9 L147.4,319.9 L149.0,319.9 L150.6,319.9 L152.2,319.9 L153.8,319.9 L155.4,319.9 L157.0,319.9 L158.6,319.9 L160.2,319.9 L161.8,319.9 L163.4,319.9 L165.0,319.9 L166.6,319.9 L168.2,319.9 L169.8,319.9 L171.4,319.9 L173.0,319.9 L174.6,319.9 L176.2,319.9 L177.8,319.9 L179.4,319.9 L181.0,319.9 L182.6,319.9 L184.2,319.9 L185.8,319.9 L187.4,319.9 L189.0,319.9 L190.6,319.9 L192.2,319.9 L193.8,319.9 L195.4,319.9 L197.0,319.9 L198.6,319.9 L200.2,319.9 L201.8,319.9 L203.4,319.9 L205.0,319.9 L206.6,319.9 L208.2,319.9 L209.8,319.9 L211.4,319.9 L213.0,319.9 L214.6,319.9 L216.2,319.9 L217.8,319.9 L219.4,319.9 L221.0,319.9 L222.6,319.9 L224.2,319.9 L225.8,319.9 L227.4,319.9 L229.0,319.9 L230.6,319.9 L232.2,319.9 L233.8,319.9 L235.4,319.9 L237.0,319.9 L238.6,319.9 L240.2,319.9 L241.8,319.8 L243.4,319.8 L245.0,319.8 L246.6,319.8 L248.2,319.8 L249.8,319.8 L251.4,319.8 L253.0,319.8 L254.6,319.8 L256.2,319.8 L257.8,319.8 L259.4,319.8 L261.0,319.8 L262.6,319.8 L264.2,319.8 L265.8,319.8 L267.4,319.8 L269.0,319.8 L270.6,319.8 L272.2,319.7 L273.8,319.7 L275.4,319.7 L277.0,319.7 L278.6,319.7 L280.2,319.7 L281.8,319.7 L283.4,319.7 L285.0,319.6 L286.6,319.6 L288.2,319.6 L289.8,319.6 L291.4,319.6 L293.0,319.6 L294.6,319.6 L296.2,319.5 L297.8,319.5 L299.4,319.5 L301.0,319.5 L302.6,319.5 L304.2,319.5 L305.8,319.4 L307.4,319.4 L309.0,319.4 L310.6,319.4 L312.2,319.3 L313.8,319.3 L315.4,319.3 L317.0,319.3 L318.6,319.2 L320.2,319.2 L321.8,319.2 L323.4,319.2 L325.0,319.1 L326.6,319.1 L328.2,319.1 L329.8,319.0 L331.4,319.0 L333.0,319.0 L334.6,319.0 L336.2,318.9 L337.8,318.9 L339.4,318.9 L341.0,318.9 L342.6,318.9 L344.2,318.9 L345.8,318.8 L347.4,318.8 L349.0,318.8 L350.6,318.8 L352.2,318.8 L353.8,318.7 L355.4,318.7 L357.0,318.7 L358.6,318.7 L360.2,318.7 L361.8,318.7 L363.4,318.7 L365.0,318.6 L366.6,318.6 L368.2,318.6 L369.8,318.6 L371.4,318.6 L373.0,318.6 L374.6,318.6 L376.2,318.5 L377.8,318.5 L379.4,318.5 L381.0,318.5 L382.6,318.5 L384.2,318.5 L385.8,318.4 L387.4,318.4 L389.0,318.4 L390.6,318.4 L392.2,318.4 L393.8,318.4 L395.4,318.3 L397.0,318.3 L398.6,318.3 L400.2,318.3 L401.8,318.2 L403.4,318.2 L405.0,318.2 L406.6,318.2 L408.2,318.2 L409.8,318.1 L411.4,318.1 L413.0,318.1 L414.6,318.1 L416.2,318.1 L417.8,318.1 L419.4,318.1 L421.0,318.1 L422.6,318.1 L424.2,318.1 L425.8,318.2 L427.4,318.2 L429.0,318.2 L430.6,318.2 L432.2,318.3 L433.8,318.3 L435.4,318.3 L437.0,318.3 L438.6,318.4 L440.2,318.4 L441.8,318.4 L443.4,318.5 L445.0,318.5 L446.6,318.5 L448.2,318.6 L449.8,318.6 L451.4,318.6 L453.0,318.7 L454.6,318.7 L456.2,318.8 L457.8,318.8 L459.4,318.9 L461.0,318.9 L462.6,318.9 L464.2,319.0 L465.8,319.0 L467.4,319.0 L469.0,319.1 L470.6,319.1 L472.2,319.1 L473.8,319.2 L475.4,319.2 L477.0,319.2 L478.6,319.3 L480.2,319.3 L481.8,319.3 L483.4,319.3 L485.0,319.4 L486.6,319.4 L488.2,319.4 L489.8,319.4 L491.4,319.5 L493.0,319.5 L494.6,319.5 L496.2,319.5 L497.8,319.6 L499.4,319.6 L501.0,319.6 L502.6,319.6 L504.2,319.6 L505.8,319.7 L507.4,319.7 L509.0,319.7 L510.6,319.7 L512.2,319.7 L513.8,319.7 L515.4,319.8 L517.0,319.8 L518.6,319.8 L520.2,319.8 L521.8,319.8 L523.4,319.8 L525.0,319.9 L526.6,319.9 L528.2,319.9 L529.8,319.9 L531.4,319.9 L533.0,319.9 L534.6,319.9 L536.2,320.0 L537.8,320.0 L539.4,320.0 L541.0,320.0 L542.6,320.0 L544.2,320.0 L545.8,320.0 L547.4,320.0 L549.0,320.0 L550.6,320.1 L552.2,320.1 L553.8,320.1 L555.4,320.1 L557.0,320.1 L558.6,320.1 L560.2,320.1 L561.8,320.1 L563.4,320.1 L565.0,320.1 L566.6,320.1 L568.2,320.1 L569.8,320.1 L571.4,320.1 L573.0,320.1 L574.6,320.2 L576.2,320.2 L577.8,320.2 L579.4,320.2 L581.0,320.2 L582.6,320.2 L584.2,320.2 L585.8,320.2 L587.4,320.2 L589.0,320.2 L590.6,320.2 L592.2,320.2 L593.8,320.2 L595.4,320.2 L597.0,320.2 L598.6,320.2 L600.2,320.2 L601.8,320.2 L603.4,320.2 L605.0,320.3 L606.6,320.3 L608.2,320.3 L609.8,320.3 L611.4,320.3 L613.0,320.3 L614.6,320.3 L616.2,320.3 L617.8,320.3 L619.4,320.3 L621.0,320.3 L622.6,320.3 L624.2,320.3 L625.8,320.3 L627.4,320.3 L629.0,320.3 L630.6,320.3 L632.2,320.3 L633.8,320.3 L635.4,320.3 L637.0,320.3 L638.6,320.3 L640.2,320.3" stroke="#9E480E"/>
</g>
<!-- panel b -->
<g stroke="#000" stroke-width="3" fill="none" stroke-linecap="butt">
<path d="M73.6,461.6 H632.9 M631.4,461.6 V770.7 M79.6,460.1 V770.7 M73.6,764.7 H631.4"/>
<path d="M73.6,731.02 H79.6"/>
<path d="M73.6,697.34 H79.6"/>
<path d="M73.6,663.67 H79.6"/>
<path d="M73.6,629.99 H79.6"/>
<path d="M73.6,596.31 H79.6"/>
<path d="M73.6,562.63 H79.6"/>
<path d="M73.6,528.96 H79.6"/>
<path d="M73.6,495.28 H79.6"/>
<path d="M189.96,764.7 V770.7"/>
<path d="M300.32,764.7 V770.7"/>
<path d="M410.68,764.7 V770.7"/>
<path d="M521.04,764.7 V770.7"/>
</g>
<text x="62.0" y="771.3" text-anchor="end">0</text>
<text x="62.0" y="737.6" text-anchor="end">0.2</text>
<text x="62.0" y="703.9" text-anchor="end">0.4</text>
<text x="62.0" y="670.3" text-anchor="end">0.6</text>
<text x="62.0" y="636.6" text-anchor="end">0.8</text>
<text x="62.0" y="602.9" text-anchor="end">1</text>
<text x="62.0" y="569.2" text-anchor="end">1.2</text>
<text x="62.0" y="535.6" text-anchor="end">1.4</text>
<text x="62.0" y="501.9" text-anchor="end">1.6</text>
<text x="62.0" y="468.2" text-anchor="end">1.8</text>
<text x="79.6" y="796.3" text-anchor="middle">400</text>
<text x="190.0" y="796.3" text-anchor="middle">450</text>
<text x="300.3" y="796.3" text-anchor="middle">500</text>
<text x="410.7" y="796.3" text-anchor="middle">550</text>
<text x="521.0" y="796.3" text-anchor="middle">600</text>
<text x="631.4" y="796.3" text-anchor="middle">650</text>
<text transform="translate(17.6,615.8) rotate(-90)" text-anchor="middle" style="font-size:20.8px">Absorbance (a.u.)</text>
<text x="355.5" y="825.6" text-anchor="middle">λ (nm)</text>
<text x="685.9" y="848.7" text-anchor="end" style="font-size:23.5px">(b)</text>
<path d="M112,488.7 H126 V679.4 H132.7 L119,692.6 L105.4,679.4 H112 Z" fill="#E84DC3"/>
<path d="M137,497.4 H172.8" stroke="#5B9BD5" stroke-width="3.1" stroke-linecap="round" fill="none"/>
<text x="177.6" y="504.2">0 S</text>
<path d="M137,534.6 H172.8" stroke="#ED7D31" stroke-width="3.1" stroke-linecap="round" fill="none"/>
<text x="177.6" y="541.4">10 S</text>
<path d="M137,571.8 H172.8" stroke="#A5A5A5" stroke-width="3.1" stroke-linecap="round" fill="none"/>
<text x="177.6" y="578.6">20 S</text>
<path d="M137,608.9 H172.8" stroke="#FFC000" stroke-width="3.1" stroke-linecap="round" fill="none"/>
<text x="177.6" y="615.7">30 S</text>
<path d="M137,646.1 H172.8" stroke="#4472C4" stroke-width="3.1" stroke-linecap="round" fill="none"/>
<text x="177.6" y="652.9">40 S</text>
<path d="M137,683.3 H172.8" stroke="#70AD47" stroke-width="3.1" stroke-linecap="round" fill="none"/>
<text x="177.6" y="690.1">50 S</text>
<g class="curves">
<path d="M63.2,747.4 L64.8,747.6 L66.4,747.8 L68.0,747.9 L69.6,748.1 L71.2,748.2 L72.8,748.2 L74.4,748.3 L76.0,748.3 L77.6,748.4 L79.2,748.4 L80.8,748.4 L82.4,748.4 L84.0,748.4 L85.6,748.4 L87.2,748.4 L88.8,748.4 L90.4,748.4 L92.0,748.4 L93.6,748.4 L95.2,748.3 L96.8,748.3 L98.4,748.3 L100.0,748.2 L101.6,748.2 L103.2,748.2 L104.8,748.2 L106.4,748.4 L108.0,748.7 L109.6,748.9 L111.2,749.2 L112.8,749.5 L114.4,749.8 L116.0,750.1 L117.6,750.4 L119.2,750.6 L120.8,750.7 L122.4,750.7 L124.0,750.7 L125.6,750.7 L127.2,750.8 L128.8,751.0 L130.4,751.2 L132.0,751.4 L133.6,751.7 L135.2,751.9 L136.8,752.2 L138.4,752.4 L140.0,752.6 L141.6,752.8 L143.2,752.9 L144.8,752.9 L146.4,752.9 L148.0,752.8 L149.6,752.8 L151.2,752.8 L152.8,752.8 L154.4,752.9 L156.0,753.1 L157.6,753.4 L159.2,753.7 L160.8,753.9 L162.4,754.0 L164.0,754.0 L165.6,753.9 L167.2,753.7 L168.8,753.6 L170.4,753.4 L172.0,753.2 L173.6,753.0 L175.2,752.9 L176.8,752.8 L178.4,752.8 L180.0,752.9 L181.6,753.0 L183.2,753.2 L184.8,753.3 L186.4,753.2 L188.0,753.1 L189.6,752.8 L191.2,752.4 L192.8,752.0 L194.4,751.5 L196.0,751.1 L197.6,750.6 L199.2,750.3 L200.8,749.9 L202.4,749.5 L204.0,749.2 L205.6,748.8 L207.2,748.5 L208.8,748.1 L210.4,747.8 L212.0,747.4 L213.6,747.1 L215.2,746.7 L216.8,746.3 L218.4,745.9 L220.0,745.5 L221.6,745.0 L223.2,744.6 L224.8,744.1 L226.4,743.6 L228.0,743.2 L229.6,742.7 L231.2,742.1 L232.8,741.6 L234.4,741.1 L236.0,740.6 L237.6,740.1 L239.2,739.5 L240.8,739.0 L242.4,738.4 L244.0,737.9 L245.6,737.3 L247.2,736.8 L248.8,736.2 L250.4,735.6 L252.0,735.0 L253.6,734.4 L255.2,733.9 L256.8,733.3 L258.4,732.7 L260.0,732.0 L261.6,731.3 L263.2,730.7 L264.8,730.0 L266.4,729.3 L268.0,728.5 L269.6,727.8 L271.2,727.0 L272.8,726.1 L274.4,725.1 L276.0,723.9 L277.6,722.5 L279.2,721.0 L280.8,719.4 L282.4,717.8 L284.0,716.1 L285.6,714.4 L287.2,712.7 L288.8,711.0 L290.4,709.3 L292.0,707.6 L293.6,705.8 L295.2,704.0 L296.8,702.1 L298.4,700.2 L300.0,698.3 L301.6,696.3 L303.2,694.2 L304.8,692.0 L306.4,689.7 L308.0,687.4 L309.6,685.0 L311.2,682.6 L312.8,680.2 L314.4,677.8 L316.0,675.5 L317.6,673.2 L319.2,670.9 L320.8,668.7 L322.4,666.7 L324.0,665.0 L325.6,663.5 L327.2,662.2 L328.8,660.8 L330.4,659.5 L332.0,658.0 L333.6,656.6 L335.2,655.1 L336.8,653.8 L338.4,652.5 L340.0,651.3 L341.6,650.1 L343.2,649.0 L344.8,647.9 L346.4,646.8 L348.0,645.6 L349.6,644.5 L351.2,643.4 L352.8,642.2 L354.4,641.1 L356.0,640.0 L357.6,638.6 L359.2,637.1 L360.8,635.2 L362.4,633.1 L364.0,630.7 L365.6,628.0 L367.2,625.2 L368.8,622.4 L370.4,619.2 L372.0,615.5 L373.6,611.6 L375.2,607.5 L376.8,603.4 L378.4,599.2 L380.0,594.9 L381.6,590.6 L383.2,586.3 L384.8,581.8 L386.4,577.1 L388.0,572.1 L389.6,566.7 L391.2,560.7 L392.8,554.7 L394.4,548.8 L396.0,543.2 L397.6,537.7 L399.2,532.3 L400.8,527.1 L402.4,522.1 L404.0,517.4 L405.6,512.9 L407.2,508.6 L408.8,504.5 L410.4,500.6 L412.0,497.1 L413.6,493.9 L415.2,491.2 L416.8,489.3 L418.4,488.3 L420.0,487.8 L421.6,487.7 L423.2,488.0 L424.8,488.7 L426.4,489.8 L428.0,491.6 L429.6,493.8 L431.2,496.6 L432.8,500.4 L434.4,505.3 L436.0,511.4 L437.6,518.4 L439.2,525.8 L440.8,533.9 L442.4,542.7 L444.0,551.4 L445.6,560.2 L447.2,569.0 L448.8,577.8 L450.4,586.5 L452.0,595.3 L453.6,604.2 L455.2,613.3 L456.8,621.8 L458.4,629.5 L460.0,637.1 L461.6,644.8 L463.2,652.4 L464.8,659.9 L466.4,667.4 L468.0,674.6 L469.6,681.6 L471.2,688.3 L472.8,694.3 L474.4,699.0 L476.0,702.9 L477.6,706.7 L479.2,710.5 L480.8,714.6 L482.4,718.6 L484.0,722.4 L485.6,725.6 L487.2,728.3 L488.8,730.9 L490.4,733.4 L492.0,735.8 L493.6,738.0 L495.2,739.9 L496.8,741.6 L498.4,743.2 L500.0,744.7 L501.6,746.1 L503.2,747.5 L504.8,748.8 L506.4,750.0 L508.0,751.1 L509.6,752.1 L511.2,753.0 L512.8,753.8 L514.4,754.5 L516.0,755.2 L517.6,755.8 L519.2,756.4 L520.8,756.9 L522.4,757.4 L524.0,757.7 L525.6,758.0 L527.2,758.3 L528.8,758.5 L530.4,758.7 L532.0,758.9 L533.6,759.2 L535.2,759.4 L536.8,759.6 L538.4,759.9 L540.0,760.1 L541.6,760.3 L543.2,760.6 L544.8,760.8 L546.4,760.9 L548.0,761.1 L549.6,761.2 L551.2,761.2 L552.8,761.3 L554.4,761.3 L556.0,761.4 L557.6,761.4 L559.2,761.5 L560.8,761.5 L562.4,761.5 L564.0,761.5 L565.6,761.6 L567.2,761.6 L568.8,761.6 L570.4,761.6 L572.0,761.6 L573.6,761.6 L575.2,761.7 L576.8,761.7 L578.4,761.7 L580.0,761.7 L581.6,761.7 L583.2,761.7 L584.8,761.7 L586.4,761.8 L588.0,761.8 L589.6,761.8 L591.2,761.8 L592.8,761.8 L594.4,761.8 L596.0,761.8 L597.6,761.8 L599.2,761.8 L600.8,761.8 L602.4,761.8 L604.0,761.8 L605.6,761.8 L607.2,761.9 L608.8,761.9 L610.4,761.9 L612.0,762.0 L613.6,762.1 L615.2,762.3 L616.8,762.5 L618.4,762.7 L620.0,762.8 L621.6,762.9 L623.2,762.9 L624.8,763.0 L626.4,763.0 L628.0,763.1 L629.6,763.1 L631.2,763.2 L632.8,763.2 L634.4,763.2 L636.0,763.2 L637.6,763.2 L639.2,763.2 L640.8,763.2 L642.4,763.1 L644.0,763.1 L645.6,763.1 L647.2,763.0" stroke="#5B9BD5"/>
<path d="M63.2,758.7 L64.8,758.7 L66.4,758.7 L68.0,758.7 L69.6,758.7 L71.2,758.7 L72.8,758.7 L74.4,758.7 L76.0,758.7 L77.6,758.7 L79.2,758.7 L80.8,758.7 L82.4,758.7 L84.0,758.7 L85.6,758.7 L87.2,758.7 L88.8,758.8 L90.4,758.8 L92.0,758.8 L93.6,758.8 L95.2,758.8 L96.8,758.9 L98.4,758.9 L100.0,758.9 L101.6,759.0 L103.2,759.0 L104.8,759.0 L106.4,759.1 L108.0,759.1 L109.6,759.2 L111.2,759.2 L112.8,759.3 L114.4,759.3 L116.0,759.4 L117.6,759.5 L119.2,759.5 L120.8,759.6 L122.4,759.7 L124.0,759.7 L125.6,759.8 L127.2,759.9 L128.8,759.9 L130.4,760.0 L132.0,760.1 L133.6,760.1 L135.2,760.2 L136.8,760.3 L138.4,760.3 L140.0,760.4 L141.6,760.4 L143.2,760.4 L144.8,760.5 L146.4,760.5 L148.0,760.5 L149.6,760.6 L151.2,760.6 L152.8,760.6 L154.4,760.6 L156.0,760.6 L157.6,760.7 L159.2,760.7 L160.8,760.7 L162.4,760.7 L164.0,760.7 L165.6,760.7 L167.2,760.7 L168.8,760.7 L170.4,760.7 L172.0,760.7 L173.6,760.7 L175.2,760.6 L176.8,760.6 L178.4,760.6 L180.0,760.6 L181.6,760.6 L183.2,760.6 L184.8,760.5 L186.4,760.5 L188.0,760.4 L189.6,760.4 L191.2,760.3 L192.8,760.2 L194.4,760.1 L196.0,760.0 L197.6,759.9 L199.2,759.8 L200.8,759.6 L202.4,759.5 L204.0,759.3 L205.6,759.2 L207.2,759.0 L208.8,758.9 L210.4,758.7 L212.0,758.5 L213.6,758.4 L215.2,758.2 L216.8,758.0 L218.4,757.9 L220.0,757.7 L221.6,757.5 L223.2,757.3 L224.8,757.2 L226.4,757.0 L228.0,756.8 L229.6,756.6 L231.2,756.5 L232.8,756.3 L234.4,756.1 L236.0,755.9 L237.6,755.7 L239.2,755.5 L240.8,755.3 L242.4,755.1 L244.0,754.9 L245.6,754.7 L247.2,754.4 L248.8,754.2 L250.4,754.0 L252.0,753.8 L253.6,753.5 L255.2,753.3 L256.8,753.1 L258.4,752.8 L260.0,752.6 L261.6,752.3 L263.2,752.1 L264.8,751.8 L266.4,751.5 L268.0,751.2 L269.6,750.9 L271.2,750.6 L272.8,750.3 L274.4,749.9 L276.0,749.5 L277.6,749.1 L279.2,748.6 L280.8,748.1 L282.4,747.5 L284.0,746.9 L285.6,746.3 L287.2,745.6 L288.8,745.0 L290.4,744.3 L292.0,743.7 L293.6,743.0 L295.2,742.3 L296.8,741.6 L298.4,740.8 L300.0,740.1 L301.6,739.3 L303.2,738.6 L304.8,737.8 L306.4,737.0 L308.0,736.2 L309.6,735.4 L311.2,734.6 L312.8,733.7 L314.4,732.8 L316.0,731.8 L317.6,731.0 L319.2,730.2 L320.8,729.6 L322.4,729.0 L324.0,728.5 L325.6,728.0 L327.2,727.5 L328.8,727.1 L330.4,726.7 L332.0,726.2 L333.6,725.7 L335.2,725.2 L336.8,724.7 L338.4,724.2 L340.0,723.7 L341.6,723.2 L343.2,722.7 L344.8,722.3 L346.4,721.8 L348.0,721.4 L349.6,721.1 L351.2,720.7 L352.8,720.3 L354.4,719.9 L356.0,719.5 L357.6,719.0 L359.2,718.5 L360.8,717.8 L362.4,717.0 L364.0,716.1 L365.6,715.2 L367.2,714.2 L368.8,713.1 L370.4,712.0 L372.0,710.7 L373.6,709.4 L375.2,707.9 L376.8,706.3 L378.4,704.6 L380.0,702.8 L381.6,701.0 L383.2,699.1 L384.8,697.2 L386.4,695.2 L388.0,693.2 L389.6,691.1 L391.2,689.0 L392.8,686.8 L394.4,684.7 L396.0,682.5 L397.6,680.5 L399.2,678.5 L400.8,676.6 L402.4,674.8 L404.0,673.1 L405.6,671.5 L407.2,670.0 L408.8,668.7 L410.4,667.6 L412.0,666.7 L413.6,665.9 L415.2,665.3 L416.8,664.9 L418.4,664.6 L420.0,664.4 L421.6,664.4 L423.2,664.5 L424.8,664.9 L426.4,665.6 L428.0,666.6 L429.6,667.9 L431.2,669.6 L432.8,671.5 L434.4,673.6 L436.0,675.8 L437.6,678.2 L439.2,680.5 L440.8,683.1 L442.4,685.9 L444.0,689.0 L445.6,692.0 L447.2,695.1 L448.8,698.2 L450.4,701.1 L452.0,704.1 L453.6,707.0 L455.2,710.0 L456.8,713.0 L458.4,715.9 L460.0,718.9 L461.6,721.8 L463.2,724.7 L464.8,727.5 L466.4,730.2 L468.0,732.8 L469.6,735.2 L471.2,737.5 L472.8,739.6 L474.4,741.4 L476.0,743.1 L477.6,744.5 L479.2,745.8 L480.8,747.1 L482.4,748.4 L484.0,749.5 L485.6,750.7 L487.2,751.8 L488.8,752.8 L490.4,753.8 L492.0,754.7 L493.6,755.5 L495.2,756.2 L496.8,756.7 L498.4,757.2 L500.0,757.7 L501.6,758.2 L503.2,758.7 L504.8,759.1 L506.4,759.5 L508.0,759.9 L509.6,760.1 L511.2,760.3 L512.8,760.5 L514.4,760.7 L516.0,760.9 L517.6,761.0 L519.2,761.2 L520.8,761.3 L522.4,761.5 L524.0,761.6 L525.6,761.7 L527.2,761.9 L528.8,762.0 L530.4,762.1 L532.0,762.2 L533.6,762.3 L535.2,762.4 L536.8,762.5 L538.4,762.6 L540.0,762.6 L541.6,762.7 L543.2,762.8 L544.8,762.8 L546.4,762.8 L548.0,762.9 L549.6,762.9 L551.2,762.9 L552.8,762.9 L554.4,762.9 L556.0,763.0 L557.6,763.0 L559.2,763.0 L560.8,762.9 L562.4,762.9 L564.0,762.9 L565.6,762.9 L567.2,762.9 L568.8,762.9 L570.4,762.9 L572.0,762.8 L573.6,762.8 L575.2,762.8 L576.8,762.8 L578.4,762.8 L580.0,762.7 L581.6,762.7 L583.2,762.7 L584.8,762.7 L586.4,762.7 L588.0,762.6 L589.6,762.6 L591.2,762.6 L592.8,762.6 L594.4,762.6 L596.0,762.6 L597.6,762.6 L599.2,762.7 L600.8,762.7 L602.4,762.7 L604.0,762.7 L605.6,762.8 L607.2,762.8 L608.8,762.9 L610.4,762.9 L612.0,763.0 L613.6,763.1 L615.2,763.2 L616.8,763.3 L618.4,763.4 L620.0,763.5 L621.6,763.6 L623.2,763.6 L624.8,763.6 L626.4,763.7 L628.0,763.7 L629.6,763.7 L631.2,763.8 L632.8,763.8 L634.4,763.8 L636.0,763.8 L637.6,763.8 L639.2,763.8 L640.8,763.8 L642.4,763.8 L644.0,763.8 L645.6,763.7 L647.2,763.7" stroke="#ED7D31"/>
<path d="M63.2,762.1 L64.8,762.1 L66.4,762.1 L68.0,762.1 L69.6,762.1 L71.2,762.0 L72.8,762.0 L74.4,762.0 L76.0,762.0 L77.6,762.0 L79.2,762.0 L80.8,762.0 L82.4,762.0 L84.0,762.0 L85.6,762.0 L87.2,762.0 L88.8,762.0 L90.4,762.0 L92.0,762.0 L93.6,762.0 L95.2,762.0 L96.8,762.0 L98.4,762.1 L100.0,762.1 L101.6,762.1 L103.2,762.1 L104.8,762.1 L106.4,762.1 L108.0,762.1 L109.6,762.2 L111.2,762.2 L112.8,762.2 L114.4,762.2 L116.0,762.3 L117.6,762.3 L119.2,762.3 L120.8,762.3 L122.4,762.4 L124.0,762.4 L125.6,762.4 L127.2,762.5 L128.8,762.5 L130.4,762.5 L132.0,762.6 L133.6,762.6 L135.2,762.6 L136.8,762.6 L138.4,762.7 L140.0,762.7 L141.6,762.7 L143.2,762.7 L144.8,762.7 L146.4,762.7 L148.0,762.8 L149.6,762.8 L151.2,762.8 L152.8,762.8 L154.4,762.8 L156.0,762.8 L157.6,762.8 L159.2,762.8 L160.8,762.8 L162.4,762.8 L164.0,762.8 L165.6,762.9 L167.2,762.9 L168.8,762.9 L170.4,762.9 L172.0,762.9 L173.6,762.9 L175.2,762.9 L176.8,762.9 L178.4,762.9 L180.0,762.8 L181.6,762.8 L183.2,762.8 L184.8,762.8 L186.4,762.8 L188.0,762.8 L189.6,762.8 L191.2,762.8 L192.8,762.8 L194.4,762.7 L196.0,762.7 L197.6,762.7 L199.2,762.7 L200.8,762.6 L202.4,762.6 L204.0,762.6 L205.6,762.5 L207.2,762.5 L208.8,762.5 L210.4,762.4 L212.0,762.4 L213.6,762.3 L215.2,762.3 L216.8,762.3 L218.4,762.2 L220.0,762.2 L221.6,762.1 L223.2,762.1 L224.8,762.0 L226.4,762.0 L228.0,761.9 L229.6,761.8 L231.2,761.8 L232.8,761.7 L234.4,761.6 L236.0,761.5 L237.6,761.5 L239.2,761.4 L240.8,761.3 L242.4,761.2 L244.0,761.1 L245.6,760.9 L247.2,760.8 L248.8,760.7 L250.4,760.6 L252.0,760.5 L253.6,760.4 L255.2,760.3 L256.8,760.1 L258.4,760.0 L260.0,759.9 L261.6,759.8 L263.2,759.7 L264.8,759.6 L266.4,759.5 L268.0,759.4 L269.6,759.2 L271.2,759.1 L272.8,758.9 L274.4,758.8 L276.0,758.6 L277.6,758.4 L279.2,758.2 L280.8,757.9 L282.4,757.7 L284.0,757.5 L285.6,757.2 L287.2,757.0 L288.8,756.8 L290.4,756.5 L292.0,756.3 L293.6,756.0 L295.2,755.8 L296.8,755.6 L298.4,755.3 L300.0,755.1 L301.6,754.9 L303.2,754.6 L304.8,754.4 L306.4,754.1 L308.0,753.9 L309.6,753.7 L311.2,753.4 L312.8,753.2 L314.4,752.9 L316.0,752.6 L317.6,752.4 L319.2,752.1 L320.8,751.9 L322.4,751.6 L324.0,751.4 L325.6,751.1 L327.2,750.9 L328.8,750.7 L330.4,750.4 L332.0,750.2 L333.6,750.0 L335.2,749.8 L336.8,749.7 L338.4,749.5 L340.0,749.3 L341.6,749.1 L343.2,748.9 L344.8,748.7 L346.4,748.6 L348.0,748.4 L349.6,748.2 L351.2,748.0 L352.8,747.8 L354.4,747.6 L356.0,747.4 L357.6,747.1 L359.2,746.9 L360.8,746.7 L362.4,746.5 L364.0,746.3 L365.6,746.0 L367.2,745.8 L368.8,745.5 L370.4,745.1 L372.0,744.7 L373.6,744.2 L375.2,743.7 L376.8,743.2 L378.4,742.5 L380.0,741.9 L381.6,741.2 L383.2,740.5 L384.8,739.8 L386.4,739.1 L388.0,738.3 L389.6,737.6 L391.2,736.8 L392.8,736.0 L394.4,735.2 L396.0,734.4 L397.6,733.6 L399.2,732.9 L400.8,732.1 L402.4,731.4 L404.0,730.7 L405.6,730.2 L407.2,729.6 L408.8,729.2 L410.4,728.8 L412.0,728.4 L413.6,728.0 L415.2,727.8 L416.8,727.6 L418.4,727.5 L420.0,727.4 L421.6,727.4 L423.2,727.4 L424.8,727.6 L426.4,727.8 L428.0,728.2 L429.6,728.6 L431.2,729.2 L432.8,729.8 L434.4,730.6 L436.0,731.6 L437.6,732.7 L439.2,733.9 L440.8,735.0 L442.4,736.1 L444.0,737.2 L445.6,738.3 L447.2,739.5 L448.8,740.6 L450.4,741.7 L452.0,742.8 L453.6,743.8 L455.2,744.8 L456.8,745.8 L458.4,746.7 L460.0,747.7 L461.6,748.7 L463.2,749.6 L464.8,750.6 L466.4,751.6 L468.0,752.5 L469.6,753.3 L471.2,754.1 L472.8,754.8 L474.4,755.5 L476.0,756.1 L477.6,756.6 L479.2,757.2 L480.8,757.7 L482.4,758.1 L484.0,758.6 L485.6,759.0 L487.2,759.4 L488.8,759.7 L490.4,760.0 L492.0,760.3 L493.6,760.5 L495.2,760.7 L496.8,760.9 L498.4,761.1 L500.0,761.2 L501.6,761.4 L503.2,761.5 L504.8,761.7 L506.4,761.8 L508.0,762.0 L509.6,762.1 L511.2,762.3 L512.8,762.4 L514.4,762.5 L516.0,762.5 L517.6,762.6 L519.2,762.7 L520.8,762.7 L522.4,762.8 L524.0,762.8 L525.6,762.9 L527.2,762.9 L528.8,762.9 L530.4,763.0 L532.0,763.0 L533.6,763.0 L535.2,763.0 L536.8,763.1 L538.4,763.1 L540.0,763.1 L541.6,763.1 L543.2,763.1 L544.8,763.1 L546.4,763.1 L548.0,763.1 L549.6,763.1 L551.2,763.2 L552.8,763.2 L554.4,763.2 L556.0,763.2 L557.6,763.2 L559.2,763.2 L560.8,763.2 L562.4,763.2 L564.0,763.2 L565.6,763.2 L567.2,763.2 L568.8,763.3 L570.4,763.3 L572.0,763.3 L573.6,763.3 L575.2,763.3 L576.8,763.3 L578.4,763.3 L580.0,763.3 L581.6,763.3 L583.2,763.3 L584.8,763.4 L586.4,763.4 L588.0,763.4 L589.6,763.4 L591.2,763.4 L592.8,763.4 L594.4,763.4 L596.0,763.4 L597.6,763.4 L599.2,763.4 L600.8,763.5 L602.4,763.5 L604.0,763.5 L605.6,763.5 L607.2,763.5 L608.8,763.5 L610.4,763.5 L612.0,763.5 L613.6,763.5 L615.2,763.5 L616.8,763.5 L618.4,763.5 L620.0,763.6 L621.6,763.6 L623.2,763.6 L624.8,763.6 L626.4,763.6 L628.0,763.6 L629.6,763.6 L631.2,763.6 L632.8,763.6 L634.4,763.6 L636.0,763.6 L637.6,763.6 L639.2,763.6 L640.8,763.6 L642.4,763.6 L644.0,763.6 L645.6,763.6 L647.2,763.6" stroke="#A5A5A5"/>
<path d="M63.2,763.7 L64.8,763.7 L66.4,763.7 L68.0,763.8 L69.6,763.8 L71.2,763.8 L72.8,763.8 L74.4,763.9 L76.0,763.9 L77.6,763.9 L79.2,763.9 L80.8,764.0 L82.4,764.0 L84.0,764.0 L85.6,764.0 L87.2,764.0 L88.8,764.0 L90.4,764.1 L92.0,764.1 L93.6,764.1 L95.2,764.1 L96.8,764.1 L98.4,764.1 L100.0,764.2 L101.6,764.2 L103.2,764.2 L104.8,764.2 L106.4,764.2 L108.0,764.2 L109.6,764.2 L111.2,764.3 L112.8,764.3 L114.4,764.3 L116.0,764.3 L117.6,764.3 L119.2,764.3 L120.8,764.3 L122.4,764.3 L124.0,764.3 L125.6,764.3 L127.2,764.3 L128.8,764.3 L130.4,764.4 L132.0,764.4 L133.6,764.4 L135.2,764.4 L136.8,764.4 L138.4,764.4 L140.0,764.4 L141.6,764.4 L143.2,764.4 L144.8,764.4 L146.4,764.4 L148.0,764.4 L149.6,764.4 L151.2,764.4 L152.8,764.4 L154.4,764.4 L156.0,764.4 L157.6,764.4 L159.2,764.4 L160.8,764.4 L162.4,764.4 L164.0,764.4 L165.6,764.4 L167.2,764.4 L168.8,764.4 L170.4,764.3 L172.0,764.3 L173.6,764.3 L175.2,764.3 L176.8,764.3 L178.4,764.3 L180.0,764.3 L181.6,764.3 L183.2,764.3 L184.8,764.3 L186.4,764.3 L188.0,764.2 L189.6,764.2 L191.2,764.2 L192.8,764.2 L194.4,764.2 L196.0,764.2 L197.6,764.2 L199.2,764.1 L200.8,764.1 L202.4,764.1 L204.0,764.1 L205.6,764.1 L207.2,764.1 L208.8,764.0 L210.4,764.0 L212.0,764.0 L213.6,764.0 L215.2,764.0 L216.8,763.9 L218.4,763.9 L220.0,763.9 L221.6,763.9 L223.2,763.9 L224.8,763.8 L226.4,763.8 L228.0,763.8 L229.6,763.8 L231.2,763.7 L232.8,763.7 L234.4,763.7 L236.0,763.7 L237.6,763.6 L239.2,763.6 L240.8,763.6 L242.4,763.5 L244.0,763.5 L245.6,763.5 L247.2,763.5 L248.8,763.4 L250.4,763.4 L252.0,763.4 L253.6,763.3 L255.2,763.3 L256.8,763.3 L258.4,763.2 L260.0,763.2 L261.6,763.1 L263.2,763.1 L264.8,763.0 L266.4,763.0 L268.0,762.9 L269.6,762.9 L271.2,762.8 L272.8,762.8 L274.4,762.7 L276.0,762.7 L277.6,762.6 L279.2,762.5 L280.8,762.5 L282.4,762.4 L284.0,762.3 L285.6,762.2 L287.2,762.2 L288.8,762.1 L290.4,762.0 L292.0,761.9 L293.6,761.8 L295.2,761.7 L296.8,761.6 L298.4,761.5 L300.0,761.4 L301.6,761.3 L303.2,761.2 L304.8,761.0 L306.4,760.9 L308.0,760.8 L309.6,760.7 L311.2,760.6 L312.8,760.5 L314.4,760.5 L316.0,760.4 L317.6,760.3 L319.2,760.2 L320.8,760.2 L322.4,760.1 L324.0,760.0 L325.6,760.0 L327.2,759.9 L328.8,759.8 L330.4,759.7 L332.0,759.7 L333.6,759.6 L335.2,759.5 L336.8,759.4 L338.4,759.3 L340.0,759.2 L341.6,759.1 L343.2,759.0 L344.8,758.9 L346.4,758.8 L348.0,758.6 L349.6,758.5 L351.2,758.4 L352.8,758.3 L354.4,758.2 L356.0,758.1 L357.6,757.9 L359.2,757.8 L360.8,757.7 L362.4,757.6 L364.0,757.5 L365.6,757.4 L367.2,757.3 L368.8,757.2 L370.4,757.0 L372.0,756.9 L373.6,756.8 L375.2,756.6 L376.8,756.5 L378.4,756.3 L380.0,756.1 L381.6,755.8 L383.2,755.5 L384.8,755.2 L386.4,754.8 L388.0,754.5 L389.6,754.2 L391.2,753.9 L392.8,753.6 L394.4,753.3 L396.0,753.0 L397.6,752.8 L399.2,752.5 L400.8,752.2 L402.4,752.0 L404.0,751.7 L405.6,751.5 L407.2,751.3 L408.8,751.1 L410.4,751.0 L412.0,750.9 L413.6,750.8 L415.2,750.8 L416.8,750.7 L418.4,750.7 L420.0,750.7 L421.6,750.7 L423.2,750.7 L424.8,750.8 L426.4,750.9 L428.0,751.0 L429.6,751.1 L431.2,751.3 L432.8,751.6 L434.4,751.9 L436.0,752.2 L437.6,752.6 L439.2,753.0 L440.8,753.4 L442.4,753.8 L444.0,754.2 L445.6,754.6 L447.2,755.1 L448.8,755.6 L450.4,756.1 L452.0,756.6 L453.6,757.1 L455.2,757.6 L456.8,758.0 L458.4,758.4 L460.0,758.8 L461.6,759.1 L463.2,759.5 L464.8,759.8 L466.4,760.0 L468.0,760.3 L469.6,760.6 L471.2,760.8 L472.8,761.1 L474.4,761.3 L476.0,761.5 L477.6,761.7 L479.2,761.9 L480.8,762.1 L482.4,762.2 L484.0,762.3 L485.6,762.5 L487.2,762.6 L488.8,762.7 L490.4,762.7 L492.0,762.8 L493.6,762.9 L495.2,763.0 L496.8,763.1 L498.4,763.2 L500.0,763.2 L501.6,763.3 L503.2,763.4 L504.8,763.4 L506.4,763.5 L508.0,763.5 L509.6,763.6 L511.2,763.6 L512.8,763.7 L514.4,763.7 L516.0,763.7 L517.6,763.8 L519.2,763.8 L520.8,763.8 L522.4,763.8 L524.0,763.9 L525.6,763.9 L527.2,763.9 L528.8,763.9 L530.4,763.9 L532.0,764.0 L533.6,764.0 L535.2,764.0 L536.8,764.0 L538.4,764.0 L540.0,764.1 L541.6,764.1 L543.2,764.1 L544.8,764.1 L546.4,764.1 L548.0,764.1 L549.6,764.2 L551.2,764.2 L552.8,764.2 L554.4,764.2 L556.0,764.2 L557.6,764.2 L559.2,764.2 L560.8,764.3 L562.4,764.3 L564.0,764.3 L565.6,764.3 L567.2,764.3 L568.8,764.3 L570.4,764.3 L572.0,764.3 L573.6,764.4 L575.2,764.4 L576.8,764.4 L578.4,764.4 L580.0,764.4 L581.6,764.4 L583.2,764.4 L584.8,764.4 L586.4,764.4 L588.0,764.4 L589.6,764.4 L591.2,764.4 L592.8,764.4 L594.4,764.4 L596.0,764.4 L597.6,764.4 L599.2,764.4 L600.8,764.4 L602.4,764.4 L604.0,764.4 L605.6,764.4 L607.2,764.4 L608.8,764.4 L610.4,764.4 L612.0,764.4 L613.6,764.4 L615.2,764.4 L616.8,764.4 L618.4,764.4 L620.0,764.3 L621.6,764.3 L623.2,764.3 L624.8,764.3 L626.4,764.3 L628.0,764.3 L629.6,764.3 L631.2,764.2 L632.8,764.2 L634.4,764.2 L636.0,764.2 L637.6,764.2 L639.2,764.1 L640.8,764.1 L642.4,764.1 L644.0,764.1 L645.6,764.0 L647.2,764.0" stroke="#FFC000"/>
<path d="M63.2,764.6 L64.8,764.6 L66.4,764.6 L68.0,764.6 L69.6,764.6 L71.2,764.6 L72.8,764.6 L74.4,764.6 L76.0,764.6 L77.6,764.6 L79.2,764.6 L80.8,764.6 L82.4,764.6 L84.0,764.6 L85.6,764.6 L87.2,764.6 L88.8,764.6 L90.4,764.6 L92.0,764.6 L93.6,764.6 L95.2,764.6 L96.8,764.6 L98.4,764.6 L100.0,764.6 L101.6,764.6 L103.2,764.6 L104.8,764.6 L106.4,764.6 L108.0,764.6 L109.6,764.6 L111.2,764.6 L112.8,764.6 L114.4,764.5 L116.0,764.5 L117.6,764.5 L119.2,764.5 L120.8,764.5 L122.4,764.5 L124.0,764.5 L125.6,764.5 L127.2,764.5 L128.8,764.5 L130.4,764.5 L132.0,764.5 L133.6,764.5 L135.2,764.5 L136.8,764.5 L138.4,764.5 L140.0,764.5 L141.6,764.5 L143.2,764.5 L144.8,764.5 L146.4,764.5 L148.0,764.5 L149.6,764.5 L151.2,764.5 L152.8,764.5 L154.4,764.5 L156.0,764.5 L157.6,764.5 L159.2,764.5 L160.8,764.5 L162.4,764.5 L164.0,764.5 L165.6,764.5 L167.2,764.5 L168.8,764.5 L170.4,764.5 L172.0,764.5 L173.6,764.5 L175.2,764.5 L176.8,764.5 L178.4,764.5 L180.0,764.5 L181.6,764.5 L183.2,764.5 L184.8,764.5 L186.4,764.5 L188.0,764.5 L189.6,764.4 L191.2,764.4 L192.8,764.4 L194.4,764.4 L196.0,764.4 L197.6,764.4 L199.2,764.4 L200.8,764.4 L202.4,764.4 L204.0,764.4 L205.6,764.4 L207.2,764.4 L208.8,764.4 L210.4,764.4 L212.0,764.4 L213.6,764.4 L215.2,764.4 L216.8,764.4 L218.4,764.4 L220.0,764.4 L221.6,764.4 L223.2,764.4 L224.8,764.4 L226.4,764.4 L228.0,764.4 L229.6,764.4 L231.2,764.4 L232.8,764.4 L234.4,764.4 L236.0,764.4 L237.6,764.3 L239.2,764.3 L240.8,764.3 L242.4,764.3 L244.0,764.3 L245.6,764.3 L247.2,764.3 L248.8,764.3 L250.4,764.3 L252.0,764.3 L253.6,764.3 L255.2,764.3 L256.8,764.2 L258.4,764.2 L260.0,764.2 L261.6,764.2 L263.2,764.1 L264.8,764.1 L266.4,764.1 L268.0,764.0 L269.6,764.0 L271.2,764.0 L272.8,763.9 L274.4,763.9 L276.0,763.8 L277.6,763.8 L279.2,763.8 L280.8,763.7 L282.4,763.7 L284.0,763.6 L285.6,763.6 L287.2,763.5 L288.8,763.5 L290.4,763.4 L292.0,763.4 L293.6,763.4 L295.2,763.3 L296.8,763.3 L298.4,763.2 L300.0,763.2 L301.6,763.2 L303.2,763.1 L304.8,763.1 L306.4,763.0 L308.0,763.0 L309.6,763.0 L311.2,762.9 L312.8,762.9 L314.4,762.8 L316.0,762.8 L317.6,762.7 L319.2,762.7 L320.8,762.7 L322.4,762.6 L324.0,762.6 L325.6,762.5 L327.2,762.5 L328.8,762.4 L330.4,762.4 L332.0,762.4 L333.6,762.3 L335.2,762.3 L336.8,762.3 L338.4,762.2 L340.0,762.2 L341.6,762.2 L343.2,762.1 L344.8,762.1 L346.4,762.1 L348.0,762.1 L349.6,762.1 L351.2,762.0 L352.8,762.0 L354.4,762.0 L356.0,762.0 L357.6,762.0 L359.2,761.9 L360.8,761.9 L362.4,761.9 L364.0,761.9 L365.6,761.9 L367.2,761.9 L368.8,761.8 L370.4,761.8 L372.0,761.8 L373.6,761.7 L375.2,761.7 L376.8,761.7 L378.4,761.6 L380.0,761.6 L381.6,761.5 L383.2,761.5 L384.8,761.4 L386.4,761.3 L388.0,761.2 L389.6,761.0 L391.2,760.9 L392.8,760.8 L394.4,760.6 L396.0,760.5 L397.6,760.4 L399.2,760.3 L400.8,760.1 L402.4,760.0 L404.0,759.9 L405.6,759.8 L407.2,759.6 L408.8,759.5 L410.4,759.4 L412.0,759.3 L413.6,759.2 L415.2,759.1 L416.8,759.0 L418.4,759.0 L420.0,759.0 L421.6,759.0 L423.2,759.0 L424.8,759.1 L426.4,759.1 L428.0,759.2 L429.6,759.2 L431.2,759.3 L432.8,759.4 L434.4,759.4 L436.0,759.6 L437.6,759.7 L439.2,759.8 L440.8,760.0 L442.4,760.2 L444.0,760.3 L445.6,760.5 L447.2,760.7 L448.8,760.9 L450.4,761.1 L452.0,761.3 L453.6,761.5 L455.2,761.7 L456.8,761.9 L458.4,762.1 L460.0,762.3 L461.6,762.5 L463.2,762.7 L464.8,762.8 L466.4,762.9 L468.0,763.0 L469.6,763.1 L471.2,763.2 L472.8,763.3 L474.4,763.4 L476.0,763.5 L477.6,763.5 L479.2,763.6 L480.8,763.7 L482.4,763.7 L484.0,763.8 L485.6,763.8 L487.2,763.9 L488.8,763.9 L490.4,763.9 L492.0,763.9 L493.6,763.9 L495.2,763.9 L496.8,763.9 L498.4,764.0 L500.0,764.0 L501.6,764.0 L503.2,764.0 L504.8,764.0 L506.4,764.0 L508.0,764.0 L509.6,764.0 L511.2,764.0 L512.8,764.1 L514.4,764.1 L516.0,764.1 L517.6,764.1 L519.2,764.1 L520.8,764.1 L522.4,764.1 L524.0,764.1 L525.6,764.1 L527.2,764.1 L528.8,764.1 L530.4,764.1 L532.0,764.2 L533.6,764.2 L535.2,764.2 L536.8,764.2 L538.4,764.2 L540.0,764.2 L541.6,764.2 L543.2,764.2 L544.8,764.2 L546.4,764.2 L548.0,764.2 L549.6,764.2 L551.2,764.2 L552.8,764.2 L554.4,764.2 L556.0,764.3 L557.6,764.3 L559.2,764.3 L560.8,764.3 L562.4,764.3 L564.0,764.3 L565.6,764.3 L567.2,764.3 L568.8,764.3 L570.4,764.3 L572.0,764.3 L573.6,764.3 L575.2,764.3 L576.8,764.3 L578.4,764.3 L580.0,764.3 L581.6,764.3 L583.2,764.3 L584.8,764.3 L586.4,764.3 L588.0,764.3 L589.6,764.3 L591.2,764.4 L592.8,764.4 L594.4,764.4 L596.0,764.4 L597.6,764.4 L599.2,764.4 L600.8,764.4 L602.4,764.4 L604.0,764.4 L605.6,764.4 L607.2,764.4 L608.8,764.4 L610.4,764.4 L612.0,764.4 L613.6,764.4 L615.2,764.4 L616.8,764.4 L618.4,764.4 L620.0,764.4 L621.6,764.4 L623.2,764.4 L624.8,764.4 L626.4,764.4 L628.0,764.4 L629.6,764.4 L631.2,764.4 L632.8,764.4 L634.4,764.4 L636.0,764.4 L637.6,764.4 L639.2,764.4 L640.8,764.4 L642.4,764.4 L644.0,764.4 L645.6,764.4 L647.2,764.4" stroke="#4472C4"/>
<path d="M63.2,764.6 L64.8,764.6 L66.4,764.6 L68.0,764.6 L69.6,764.6 L71.2,764.6 L72.8,764.6 L74.4,764.6 L76.0,764.6 L77.6,764.6 L79.2,764.6 L80.8,764.6 L82.4,764.6 L84.0,764.6 L85.6,764.6 L87.2,764.6 L88.8,764.6 L90.4,764.6 L92.0,764.6 L93.6,764.6 L95.2,764.6 L96.8,764.6 L98.4,764.6 L100.0,764.6 L101.6,764.6 L103.2,764.6 L104.8,764.6 L106.4,764.6 L108.0,764.6 L109.6,764.6 L111.2,764.6 L112.8,764.6 L114.4,764.5 L116.0,764.5 L117.6,764.5 L119.2,764.5 L120.8,764.5 L122.4,764.5 L124.0,764.5 L125.6,764.5 L127.2,764.5 L128.8,764.5 L130.4,764.5 L132.0,764.5 L133.6,764.5 L135.2,764.5 L136.8,764.5 L138.4,764.5 L140.0,764.5 L141.6,764.5 L143.2,764.5 L144.8,764.5 L146.4,764.5 L148.0,764.5 L149.6,764.5 L151.2,764.5 L152.8,764.5 L154.4,764.5 L156.0,764.5 L157.6,764.5 L159.2,764.5 L160.8,764.5 L162.4,764.5 L164.0,764.5 L165.6,764.5 L167.2,764.5 L168.8,764.5 L170.4,764.5 L172.0,764.5 L173.6,764.5 L175.2,764.5 L176.8,764.5 L178.4,764.5 L180.0,764.5 L181.6,764.5 L183.2,764.5 L184.8,764.4 L186.4,764.4 L188.0,764.4 L189.6,764.4 L191.2,764.4 L192.8,764.4 L194.4,764.4 L196.0,764.4 L197.6,764.4 L199.2,764.4 L200.8,764.4 L202.4,764.4 L204.0,764.4 L205.6,764.4 L207.2,764.4 L208.8,764.4 L210.4,764.4 L212.0,764.4 L213.6,764.4 L215.2,764.4 L216.8,764.4 L218.4,764.4 L220.0,764.4 L221.6,764.4 L223.2,764.4 L224.8,764.4 L226.4,764.4 L228.0,764.4 L229.6,764.4 L231.2,764.4 L232.8,764.4 L234.4,764.3 L236.0,764.3 L237.6,764.3 L239.2,764.3 L240.8,764.3 L242.4,764.3 L244.0,764.3 L245.6,764.3 L247.2,764.3 L248.8,764.3 L250.4,764.3 L252.0,764.3 L253.6,764.3 L255.2,764.3 L256.8,764.3 L258.4,764.3 L260.0,764.3 L261.6,764.3 L263.2,764.2 L264.8,764.2 L266.4,764.2 L268.0,764.2 L269.6,764.2 L271.2,764.2 L272.8,764.2 L274.4,764.2 L276.0,764.2 L277.6,764.2 L279.2,764.1 L280.8,764.1 L282.4,764.1 L284.0,764.1 L285.6,764.1 L287.2,764.1 L288.8,764.1 L290.4,764.1 L292.0,764.0 L293.6,764.0 L295.2,764.0 L296.8,764.0 L298.4,764.0 L300.0,764.0 L301.6,764.0 L303.2,764.0 L304.8,763.9 L306.4,763.9 L308.0,763.9 L309.6,763.9 L311.2,763.9 L312.8,763.9 L314.4,763.9 L316.0,763.8 L317.6,763.8 L319.2,763.8 L320.8,763.8 L322.4,763.8 L324.0,763.8 L325.6,763.7 L327.2,763.7 L328.8,763.7 L330.4,763.7 L332.0,763.7 L333.6,763.7 L335.2,763.6 L336.8,763.6 L338.4,763.6 L340.0,763.6 L341.6,763.6 L343.2,763.6 L344.8,763.6 L346.4,763.5 L348.0,763.5 L349.6,763.5 L351.2,763.5 L352.8,763.5 L354.4,763.5 L356.0,763.4 L357.6,763.4 L359.2,763.4 L360.8,763.4 L362.4,763.4 L364.0,763.4 L365.6,763.3 L367.2,763.3 L368.8,763.3 L370.4,763.3 L372.0,763.2 L373.6,763.2 L375.2,763.2 L376.8,763.2 L378.4,763.1 L380.0,763.1 L381.6,763.1 L383.2,763.0 L384.8,762.9 L386.4,762.9 L388.0,762.8 L389.6,762.7 L391.2,762.6 L392.8,762.6 L394.4,762.5 L396.0,762.4 L397.6,762.3 L399.2,762.2 L400.8,762.2 L402.4,762.1 L404.0,762.0 L405.6,761.9 L407.2,761.8 L408.8,761.7 L410.4,761.7 L412.0,761.6 L413.6,761.5 L415.2,761.5 L416.8,761.4 L418.4,761.4 L420.0,761.4 L421.6,761.4 L423.2,761.4 L424.8,761.5 L426.4,761.5 L428.0,761.6 L429.6,761.7 L431.2,761.7 L432.8,761.8 L434.4,761.9 L436.0,762.0 L437.6,762.1 L439.2,762.2 L440.8,762.2 L442.4,762.3 L444.0,762.5 L445.6,762.6 L447.2,762.7 L448.8,762.9 L450.4,763.0 L452.0,763.1 L453.6,763.2 L455.2,763.3 L456.8,763.4 L458.4,763.5 L460.0,763.5 L461.6,763.6 L463.2,763.6 L464.8,763.7 L466.4,763.7 L468.0,763.8 L469.6,763.8 L471.2,763.8 L472.8,763.9 L474.4,763.9 L476.0,764.0 L477.6,764.0 L479.2,764.0 L480.8,764.1 L482.4,764.1 L484.0,764.1 L485.6,764.1 L487.2,764.2 L488.8,764.2 L490.4,764.2 L492.0,764.2 L493.6,764.2 L495.2,764.3 L496.8,764.3 L498.4,764.3 L500.0,764.3 L501.6,764.3 L503.2,764.3 L504.8,764.3 L506.4,764.3 L508.0,764.3 L509.6,764.4 L511.2,764.4 L512.8,764.4 L514.4,764.4 L516.0,764.4 L517.6,764.4 L519.2,764.4 L520.8,764.4 L522.4,764.4 L524.0,764.4 L525.6,764.4 L527.2,764.4 L528.8,764.4 L530.4,764.5 L532.0,764.5 L533.6,764.5 L535.2,764.5 L536.8,764.5 L538.4,764.5 L540.0,764.5 L541.6,764.5 L543.2,764.5 L544.8,764.5 L546.4,764.5 L548.0,764.5 L549.6,764.5 L551.2,764.5 L552.8,764.5 L554.4,764.5 L556.0,764.5 L557.6,764.6 L559.2,764.6 L560.8,764.6 L562.4,764.6 L564.0,764.6 L565.6,764.6 L567.2,764.6 L568.8,764.6 L570.4,764.6 L572.0,764.6 L573.6,764.6 L575.2,764.6 L576.8,764.6 L578.4,764.6 L580.0,764.6 L581.6,764.6 L583.2,764.6 L584.8,764.6 L586.4,764.6 L588.0,764.6 L589.6,764.6 L591.2,764.6 L592.8,764.6 L594.4,764.6 L596.0,764.7 L597.6,764.7 L599.2,764.7 L600.8,764.7 L602.4,764.7 L604.0,764.7 L605.6,764.7 L607.2,764.7 L608.8,764.7 L610.4,764.7 L612.0,764.7 L613.6,764.7 L615.2,764.7 L616.8,764.7 L618.4,764.7 L620.0,764.7 L621.6,764.7 L623.2,764.7 L624.8,764.7 L626.4,764.7 L628.0,764.7 L629.6,764.7 L631.2,764.7 L632.8,764.7 L634.4,764.7 L636.0,764.7 L637.6,764.7 L639.2,764.7 L640.8,764.7 L642.4,764.7 L644.0,764.7 L645.6,764.7 L647.2,764.7" stroke="#70AD47"/>
</g>
</svg>
</body></html>
